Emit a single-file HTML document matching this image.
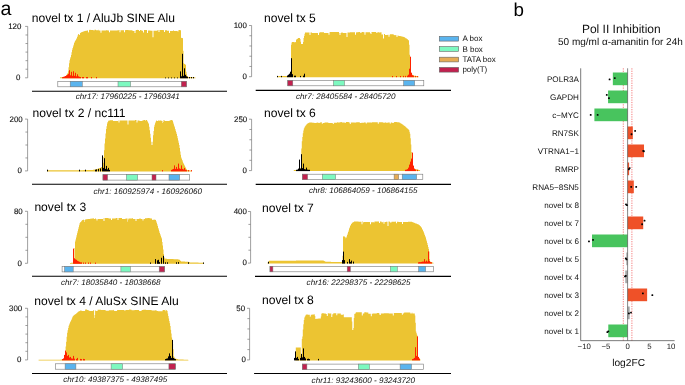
<!DOCTYPE html>
<html><head><meta charset="utf-8"><title>Figure</title>
<style>html,body{margin:0;padding:0;background:#fff;}svg{display:block;}</style>
</head><body>
<svg width="685" height="385" viewBox="0 0 685 385" text-rendering="geometricPrecision">
<rect width="685" height="385" fill="#fff"/>
<path d="M60.0 78.3 L60.0 77.3 L60.5 77.3 L60.5 77.3 L61.0 77.3 L61.0 77.2 L61.5 77.2 L61.5 77.2 L62.0 77.2 L62.0 77.2 L62.5 77.2 L62.5 77.1 L63.0 77.1 L63.0 77.1 L63.5 77.1 L63.5 77.0 L64.0 77.0 L64.0 77.0 L64.5 77.0 L64.5 76.7 L65.0 76.7 L65.0 76.4 L65.5 76.4 L65.5 76.1 L66.0 76.1 L66.0 75.8 L66.5 75.8 L66.5 74.8 L67.0 74.8 L67.0 73.9 L67.5 73.9 L67.5 72.9 L68.0 72.9 L68.0 71.3 L68.5 71.3 L68.5 67.3 L69.0 67.3 L69.0 63.2 L69.5 63.2 L69.5 60.2 L70.0 60.2 L70.0 58.6 L70.5 58.6 L70.5 57.0 L71.0 57.0 L71.0 54.9 L71.5 54.9 L71.5 52.3 L72.0 52.3 L72.0 49.8 L72.5 49.8 L72.5 48.0 L73.0 48.0 L73.0 46.4 L73.5 46.4 L73.5 44.7 L74.0 44.7 L74.0 43.1 L74.5 43.1 L74.5 41.8 L75.0 41.8 L75.0 40.9 L75.5 40.9 L75.5 40.1 L76.0 40.1 L76.0 39.3 L76.5 39.3 L76.5 38.3 L77.0 38.3 L77.0 36.9 L77.5 36.9 L77.5 35.4 L78.0 35.4 L78.0 34.2 L78.5 34.2 L78.5 33.9 L79.0 33.9 L79.0 35.1 L79.5 35.1 L79.5 34.8 L80.0 34.8 L80.0 33.0 L80.5 33.0 L80.5 32.7 L81.0 32.7 L81.0 32.4 L81.5 32.4 L81.5 32.1 L82.0 32.1 L82.0 31.9 L82.5 31.9 L82.5 31.7 L83.0 31.7 L83.0 31.6 L83.5 31.6 L83.5 31.4 L84.0 31.4 L84.0 31.3 L84.5 31.3 L84.5 31.1 L85.0 31.1 L85.0 30.9 L85.5 30.9 L85.5 30.8 L86.0 30.8 L86.0 30.7 L86.5 30.7 L86.5 30.8 L87.0 30.8 L87.0 30.6 L87.5 30.6 L87.5 30.6 L88.0 30.6 L88.0 32.5 L88.5 32.5 L88.5 32.3 L89.0 32.3 L89.0 29.9 L89.5 29.9 L89.5 29.8 L90.0 29.8 L90.0 29.8 L90.5 29.8 L90.5 29.9 L91.0 29.9 L91.0 29.9 L91.5 29.9 L91.5 29.9 L92.0 29.9 L92.0 29.9 L92.5 29.9 L92.5 29.9 L93.0 29.9 L93.0 29.9 L93.5 29.9 L93.5 30.6 L94.0 30.6 L94.0 30.6 L94.5 30.6 L94.5 29.8 L95.0 29.8 L95.0 29.8 L95.5 29.8 L95.5 29.8 L96.0 29.8 L96.0 30.3 L96.5 30.3 L96.5 30.3 L97.0 30.3 L97.0 30.3 L97.5 30.3 L97.5 30.3 L98.0 30.3 L98.0 29.7 L98.5 29.7 L98.5 30.5 L99.0 30.5 L99.0 30.5 L99.5 30.5 L99.5 30.5 L100.0 30.5 L100.0 30.5 L100.5 30.5 L100.5 32.7 L101.0 32.7 L101.0 32.7 L101.5 32.7 L101.5 30.5 L102.0 30.5 L102.0 30.5 L102.5 30.5 L102.5 30.5 L103.0 30.5 L103.0 30.5 L103.5 30.5 L103.5 30.5 L104.0 30.5 L104.0 30.5 L104.5 30.5 L104.5 30.5 L105.0 30.5 L105.0 30.5 L105.5 30.5 L105.5 30.5 L106.0 30.5 L106.0 30.2 L106.5 30.2 L106.5 30.2 L107.0 30.2 L107.0 30.3 L107.5 30.3 L107.5 30.5 L108.0 30.5 L108.0 30.5 L108.5 30.5 L108.5 30.5 L109.0 30.5 L109.0 32.3 L109.5 32.3 L109.5 32.3 L110.0 32.3 L110.0 30.5 L110.5 30.5 L110.5 30.5 L111.0 30.5 L111.0 30.5 L111.5 30.5 L111.5 30.5 L112.0 30.5 L112.0 30.5 L112.5 30.5 L112.5 30.5 L113.0 30.5 L113.0 30.5 L113.5 30.5 L113.5 30.5 L114.0 30.5 L114.0 30.5 L114.5 30.5 L114.5 30.5 L115.0 30.5 L115.0 30.6 L115.5 30.6 L115.5 30.6 L116.0 30.6 L116.0 30.6 L116.5 30.6 L116.5 30.6 L117.0 30.6 L117.0 30.6 L117.5 30.6 L117.5 30.3 L118.0 30.3 L118.0 29.9 L118.5 29.9 L118.5 30.6 L119.0 30.6 L119.0 30.0 L119.5 30.0 L119.5 32.2 L120.0 32.2 L120.0 32.2 L120.5 32.2 L120.5 30.3 L121.0 30.3 L121.0 30.3 L121.5 30.3 L121.5 30.3 L122.0 30.3 L122.0 30.3 L122.5 30.3 L122.5 30.3 L123.0 30.3 L123.0 30.3 L123.5 30.3 L123.5 30.3 L124.0 30.3 L124.0 32.3 L124.5 32.3 L124.5 32.3 L125.0 32.3 L125.0 30.3 L125.5 30.3 L125.5 30.0 L126.0 30.0 L126.0 30.0 L126.5 30.0 L126.5 30.0 L127.0 30.0 L127.0 30.0 L127.5 30.0 L127.5 30.0 L128.0 30.0 L128.0 30.0 L128.5 30.0 L128.5 30.3 L129.0 30.3 L129.0 30.3 L129.5 30.3 L129.5 30.3 L130.0 30.3 L130.0 30.3 L130.5 30.3 L130.5 30.3 L131.0 30.3 L131.0 30.3 L131.5 30.3 L131.5 30.3 L132.0 30.3 L132.0 30.3 L132.5 30.3 L132.5 30.9 L133.0 30.9 L133.0 30.9 L133.5 30.9 L133.5 30.9 L134.0 30.9 L134.0 30.9 L134.5 30.9 L134.5 33.1 L135.0 33.1 L135.0 33.1 L135.5 33.1 L135.5 30.6 L136.0 30.6 L136.0 29.9 L136.5 29.9 L136.5 30.0 L137.0 30.0 L137.0 30.0 L137.5 30.0 L137.5 29.8 L138.0 29.8 L138.0 29.9 L138.5 29.9 L138.5 29.9 L139.0 29.9 L139.0 30.9 L139.5 30.9 L139.5 30.9 L140.0 30.9 L140.0 30.1 L140.5 30.1 L140.5 30.1 L141.0 30.1 L141.0 30.1 L141.5 30.1 L141.5 30.8 L142.0 30.8 L142.0 30.8 L142.5 30.8 L142.5 30.8 L143.0 30.8 L143.0 32.9 L143.5 32.9 L143.5 32.0 L144.0 32.0 L144.0 30.0 L144.5 30.0 L144.5 30.0 L145.0 30.0 L145.0 30.0 L145.5 30.0 L145.5 29.9 L146.0 29.9 L146.0 29.9 L146.5 29.9 L146.5 29.9 L147.0 29.9 L147.0 33.0 L147.5 33.0 L147.5 33.0 L148.0 33.0 L148.0 30.5 L148.5 30.5 L148.5 30.5 L149.0 30.5 L149.0 30.5 L149.5 30.5 L149.5 30.5 L150.0 30.5 L150.0 30.5 L150.5 30.5 L150.5 30.8 L151.0 30.8 L151.0 30.8 L151.5 30.8 L151.5 30.8 L152.0 30.8 L152.0 30.8 L152.5 30.8 L152.5 37.3 L153.0 37.3 L153.0 37.3 L153.5 37.3 L153.5 30.8 L154.0 30.8 L154.0 30.8 L154.5 30.8 L154.5 30.8 L155.0 30.8 L155.0 30.8 L155.5 30.8 L155.5 30.8 L156.0 30.8 L156.0 30.8 L156.5 30.8 L156.5 30.8 L157.0 30.8 L157.0 30.8 L157.5 30.8 L157.5 29.9 L158.0 29.9 L158.0 29.9 L158.5 29.9 L158.5 32.1 L159.0 32.1 L159.0 32.1 L159.5 32.1 L159.5 29.9 L160.0 29.9 L160.0 29.9 L160.5 29.9 L160.5 29.9 L161.0 29.9 L161.0 29.9 L161.5 29.9 L161.5 29.9 L162.0 29.9 L162.0 30.0 L162.5 30.0 L162.5 30.0 L163.0 30.0 L163.0 30.0 L163.5 30.0 L163.5 30.2 L164.0 30.2 L164.0 32.0 L164.5 32.0 L164.5 32.0 L165.0 32.0 L165.0 30.2 L165.5 30.2 L165.5 30.2 L166.0 30.2 L166.0 30.2 L166.5 30.2 L166.5 30.2 L167.0 30.2 L167.0 30.7 L167.5 30.7 L167.5 30.7 L168.0 30.7 L168.0 30.7 L168.5 30.7 L168.5 30.7 L169.0 30.7 L169.0 32.9 L169.5 32.9 L169.5 33.1 L170.0 33.1 L170.0 30.9 L170.5 30.9 L170.5 30.9 L171.0 30.9 L171.0 30.9 L171.5 30.9 L171.5 30.9 L172.0 30.9 L172.0 30.9 L172.5 30.9 L172.5 30.9 L173.0 30.9 L173.0 30.9 L173.5 30.9 L173.5 30.1 L174.0 30.1 L174.0 31.1 L174.5 31.1 L174.5 31.1 L175.0 31.1 L175.0 31.0 L175.5 31.0 L175.5 31.0 L176.0 31.0 L176.0 31.0 L176.5 31.0 L176.5 31.0 L177.0 31.0 L177.0 31.0 L177.5 31.0 L177.5 31.5 L178.0 31.5 L178.0 31.5 L178.5 31.5 L178.5 30.0 L179.0 30.0 L179.0 30.0 L179.5 30.0 L179.5 30.0 L180.0 30.0 L180.0 30.0 L180.5 30.0 L180.5 30.6 L181.0 30.6 L181.0 37.8 L181.5 37.8 L181.5 37.9 L182.0 37.9 L182.0 38.1 L182.5 38.1 L182.5 38.2 L183.0 38.2 L183.0 50.7 L183.5 50.7 L183.5 63.3 L184.0 63.3 L184.0 63.7 L184.5 63.7 L184.5 64.0 L185.0 64.0 L185.0 64.4 L185.5 64.4 L185.5 64.8 L186.0 64.8 L186.0 71.8 L186.5 71.8 L186.5 74.3 L187.0 74.3 L187.0 76.0 L187.5 76.0 L187.5 76.5 L188.0 76.5 L188.0 77.0 L188.5 77.0 L188.5 77.0 L189.0 77.0 L189.0 77.1 L189.5 77.1 L189.5 77.1 L190.0 77.1 L190.0 77.1 L190.5 77.1 L190.5 77.1 L191.0 77.1 L191.0 77.2 L191.5 77.2 L191.5 77.2 L192.0 77.2 L192.0 77.2 L192.5 77.2 L192.5 77.3 L193.0 77.3 L193.0 77.3 L193.5 77.3 L193.5 77.3 L194.0 77.3 L194.0 77.3 L194.5 77.3 L194.5 77.4 L195.0 77.4 L195.0 77.4 L195.5 77.4 L195.5 78.3 Z" fill="#ECC432"/>
<path d="M62.5 78.3 V77.2 M63.5 78.3 V76.8 M64.5 78.3 V76.5 M65.5 78.3 V76.0 M66.5 78.3 V75.4 M67.5 78.3 V74.8 M68.5 78.3 V73.8 M69.5 78.3 V70.2 M70.5 78.3 V75.3 M71.5 78.3 V71.8 M72.5 78.3 V75.8 M73.5 78.3 V71.3 M74.5 78.3 V75.8 M75.5 78.3 V72.8 M76.5 78.3 V76.3 M77.5 78.3 V74.3 M78.5 78.3 V76.3 M79.5 78.3 V76.8 M80.5 78.3 V77.0 M82.5 78.3 V77.0 M83.5 78.3 V77.0 M86.5 78.3 V77.0 M87.5 78.3 V77.0 M91.5 78.3 V77.0 M96.5 78.3 V77.0 " stroke="#FF2200" stroke-width="1" fill="none"/>
<path d="M165.5 78.3 V77.5 M168.5 78.3 V77.5 M171.5 78.3 V77.5 M174.5 78.3 V77.5 M177.5 78.3 V77.5 M180.5 78.3 V71.4 M181.5 78.3 V76.3 M182.5 78.3 V53.8 M183.5 78.3 V75.8 M184.5 78.3 V68.3 M185.5 78.3 V74.8 M186.5 78.3 V76.3 M187.5 78.3 V76.8 M189.5 78.3 V77.0 M191.5 78.3 V77.0 M193.5 78.3 V77.0 " stroke="#000000" stroke-width="1" fill="none"/>
<path d="M25.1 26.4 H27.7 V77.8 H25.1 M27.7 34.97 H25.5 M27.7 43.53 H25.5 M27.7 52.10 H25.5 M27.7 60.67 H25.5 M27.7 69.23 H25.5 " stroke="#777" stroke-width="0.7" fill="none"/>
<text x="21.3" y="28.9" font-size="7.9" text-anchor="end" font-family="Liberation Sans, Arial, sans-serif" fill="#111" stroke="#111" stroke-width="0.12">120</text>
<text x="20.3" y="80.0" font-size="7.9" text-anchor="end" font-family="Liberation Sans, Arial, sans-serif" fill="#111" stroke="#111" stroke-width="0.12">0</text>
<rect x="57.8" y="81.3" width="128.6" height="5.5" fill="#fff" stroke="#777" stroke-width="0.6"/>
<rect x="70.2" y="81.3" width="12.1" height="5.5" fill="#5AB4EE" stroke="#777" stroke-width="0.5"/>
<rect x="118.0" y="81.3" width="12.6" height="5.5" fill="#7DF9C0" stroke="#777" stroke-width="0.5"/>
<rect x="181.3" y="81.3" width="5.1" height="5.5" fill="#C2214F" stroke="#777" stroke-width="0.5"/>
<path d="M32.0 91.3 H227.0" stroke="#000" stroke-width="1.1"/>
<text x="31.7" y="21.6" font-size="12.1" font-family="Liberation Sans, Arial, sans-serif" fill="#000">novel tx 1 / AluJb SINE Alu</text>
<text x="127.8" y="99.4" font-size="8.1" font-style="italic" text-anchor="middle" font-family="Liberation Sans, Arial, sans-serif" fill="#111">chr17: 17960225 - 17960341</text>
<path d="M47.0 171.4 L47.0 170.3 L47.5 170.3 L47.5 170.3 L48.0 170.3 L48.0 170.3 L48.5 170.3 L48.5 170.3 L49.0 170.3 L49.0 170.3 L49.5 170.3 L49.5 170.3 L50.0 170.3 L50.0 170.3 L50.5 170.3 L50.5 170.3 L51.0 170.3 L51.0 170.3 L51.5 170.3 L51.5 170.3 L52.0 170.3 L52.0 170.3 L52.5 170.3 L52.5 170.3 L53.0 170.3 L53.0 170.3 L53.5 170.3 L53.5 170.3 L54.0 170.3 L54.0 170.3 L54.5 170.3 L54.5 170.3 L55.0 170.3 L55.0 170.3 L55.5 170.3 L55.5 170.3 L56.0 170.3 L56.0 170.3 L56.5 170.3 L56.5 170.3 L57.0 170.3 L57.0 170.3 L57.5 170.3 L57.5 170.3 L58.0 170.3 L58.0 170.3 L58.5 170.3 L58.5 170.3 L59.0 170.3 L59.0 170.3 L59.5 170.3 L59.5 170.3 L60.0 170.3 L60.0 170.3 L60.5 170.3 L60.5 170.3 L61.0 170.3 L61.0 170.3 L61.5 170.3 L61.5 170.3 L62.0 170.3 L62.0 170.3 L62.5 170.3 L62.5 170.3 L63.0 170.3 L63.0 170.3 L63.5 170.3 L63.5 170.2 L64.0 170.2 L64.0 170.2 L64.5 170.2 L64.5 170.2 L65.0 170.2 L65.0 170.2 L65.5 170.2 L65.5 170.2 L66.0 170.2 L66.0 170.2 L66.5 170.2 L66.5 170.2 L67.0 170.2 L67.0 170.2 L67.5 170.2 L67.5 170.2 L68.0 170.2 L68.0 170.2 L68.5 170.2 L68.5 170.2 L69.0 170.2 L69.0 170.2 L69.5 170.2 L69.5 170.2 L70.0 170.2 L70.0 170.2 L70.5 170.2 L70.5 170.2 L71.0 170.2 L71.0 170.2 L71.5 170.2 L71.5 170.2 L72.0 170.2 L72.0 170.2 L72.5 170.2 L72.5 170.2 L73.0 170.2 L73.0 170.2 L73.5 170.2 L73.5 170.2 L74.0 170.2 L74.0 170.2 L74.5 170.2 L74.5 170.2 L75.0 170.2 L75.0 170.2 L75.5 170.2 L75.5 170.2 L76.0 170.2 L76.0 170.2 L76.5 170.2 L76.5 170.2 L77.0 170.2 L77.0 170.2 L77.5 170.2 L77.5 170.2 L78.0 170.2 L78.0 170.2 L78.5 170.2 L78.5 170.2 L79.0 170.2 L79.0 170.2 L79.5 170.2 L79.5 170.2 L80.0 170.2 L80.0 170.2 L80.5 170.2 L80.5 170.2 L81.0 170.2 L81.0 170.2 L81.5 170.2 L81.5 170.2 L82.0 170.2 L82.0 170.2 L82.5 170.2 L82.5 170.2 L83.0 170.2 L83.0 170.2 L83.5 170.2 L83.5 170.1 L84.0 170.1 L84.0 170.1 L84.5 170.1 L84.5 170.1 L85.0 170.1 L85.0 170.1 L85.5 170.1 L85.5 170.1 L86.0 170.1 L86.0 170.1 L86.5 170.1 L86.5 170.1 L87.0 170.1 L87.0 170.1 L87.5 170.1 L87.5 170.1 L88.0 170.1 L88.0 170.1 L88.5 170.1 L88.5 170.1 L89.0 170.1 L89.0 170.1 L89.5 170.1 L89.5 170.0 L90.0 170.0 L90.0 170.0 L90.5 170.0 L90.5 170.0 L91.0 170.0 L91.0 170.0 L91.5 170.0 L91.5 170.0 L92.0 170.0 L92.0 170.0 L92.5 170.0 L92.5 169.9 L93.0 169.9 L93.0 169.8 L93.5 169.8 L93.5 169.7 L94.0 169.7 L94.0 169.7 L94.5 169.7 L94.5 169.6 L95.0 169.6 L95.0 169.5 L95.5 169.5 L95.5 169.4 L96.0 169.4 L96.0 169.3 L96.5 169.3 L96.5 169.1 L97.0 169.1 L97.0 169.0 L97.5 169.0 L97.5 168.8 L98.0 168.8 L98.0 168.6 L98.5 168.6 L98.5 168.4 L99.0 168.4 L99.0 168.2 L99.5 168.2 L99.5 168.1 L100.0 168.1 L100.0 167.9 L100.5 167.9 L100.5 167.6 L101.0 167.6 L101.0 167.3 L101.5 167.3 L101.5 167.0 L102.0 167.0 L102.0 166.7 L102.5 166.7 L102.5 166.5 L103.0 166.5 L103.0 162.7 L103.5 162.7 L103.5 156.9 L104.0 156.9 L104.0 150.3 L104.5 150.3 L104.5 143.6 L105.0 143.6 L105.0 138.4 L105.5 138.4 L105.5 133.4 L106.0 133.4 L106.0 128.9 L106.5 128.9 L106.5 126.2 L107.0 126.2 L107.0 123.4 L107.5 123.4 L107.5 121.9 L108.0 121.9 L108.0 121.3 L108.5 121.3 L108.5 120.6 L109.0 120.6 L109.0 120.5 L109.5 120.5 L109.5 120.5 L110.0 120.5 L110.0 120.2 L110.5 120.2 L110.5 120.2 L111.0 120.2 L111.0 120.2 L111.5 120.2 L111.5 120.2 L112.0 120.2 L112.0 120.2 L112.5 120.2 L112.5 120.2 L113.0 120.2 L113.0 121.0 L113.5 121.0 L113.5 121.0 L114.0 121.0 L114.0 121.0 L114.5 121.0 L114.5 121.0 L115.0 121.0 L115.0 121.0 L115.5 121.0 L115.5 121.0 L116.0 121.0 L116.0 121.0 L116.5 121.0 L116.5 121.0 L117.0 121.0 L117.0 120.9 L117.5 120.9 L117.5 120.9 L118.0 120.9 L118.0 120.4 L118.5 120.4 L118.5 122.4 L119.0 122.4 L119.0 122.4 L119.5 122.4 L119.5 120.4 L120.0 120.4 L120.0 120.4 L120.5 120.4 L120.5 120.4 L121.0 120.4 L121.0 120.4 L121.5 120.4 L121.5 120.4 L122.0 120.4 L122.0 120.4 L122.5 120.4 L122.5 120.4 L123.0 120.4 L123.0 120.5 L123.5 120.5 L123.5 120.5 L124.0 120.5 L124.0 120.5 L124.5 120.5 L124.5 120.5 L125.0 120.5 L125.0 120.5 L125.5 120.5 L125.5 120.5 L126.0 120.5 L126.0 120.5 L126.5 120.5 L126.5 120.5 L127.0 120.5 L127.0 120.5 L127.5 120.5 L127.5 124.5 L128.0 124.5 L128.0 124.5 L128.5 124.5 L128.5 120.5 L129.0 120.5 L129.0 120.5 L129.5 120.5 L129.5 120.5 L130.0 120.5 L130.0 120.5 L130.5 120.5 L130.5 120.5 L131.0 120.5 L131.0 120.5 L131.5 120.5 L131.5 120.5 L132.0 120.5 L132.0 120.4 L132.5 120.4 L132.5 120.4 L133.0 120.4 L133.0 120.4 L133.5 120.4 L133.5 120.4 L134.0 120.4 L134.0 120.4 L134.5 120.4 L134.5 120.4 L135.0 120.4 L135.0 119.9 L135.5 119.9 L135.5 119.9 L136.0 119.9 L136.0 120.0 L136.5 120.0 L136.5 122.6 L137.0 122.6 L137.0 122.6 L137.5 122.6 L137.5 120.6 L138.0 120.6 L138.0 120.6 L138.5 120.6 L138.5 120.6 L139.0 120.6 L139.0 120.8 L139.5 120.8 L139.5 120.8 L140.0 120.8 L140.0 120.9 L140.5 120.9 L140.5 120.9 L141.0 120.9 L141.0 120.9 L141.5 120.9 L141.5 120.9 L142.0 120.9 L142.0 120.9 L142.5 120.9 L142.5 120.2 L143.0 120.2 L143.0 120.2 L143.5 120.2 L143.5 120.2 L144.0 120.2 L144.0 120.1 L144.5 120.1 L144.5 120.1 L145.0 120.1 L145.0 120.4 L145.5 120.4 L145.5 120.4 L146.0 120.4 L146.0 120.1 L146.5 120.1 L146.5 120.1 L147.0 120.1 L147.0 120.7 L147.5 120.7 L147.5 121.7 L148.0 121.7 L148.0 122.8 L148.5 122.8 L148.5 123.8 L149.0 123.8 L149.0 126.8 L149.5 126.8 L149.5 130.2 L150.0 130.2 L150.0 133.8 L150.5 133.8 L150.5 137.8 L151.0 137.8 L151.0 141.8 L151.5 141.8 L151.5 145.0 L152.0 145.0 L152.0 145.0 L152.5 145.0 L152.5 141.8 L153.0 141.8 L153.0 135.2 L153.5 135.2 L153.5 131.0 L154.0 131.0 L154.0 126.8 L154.5 126.8 L154.5 124.8 L155.0 124.8 L155.0 123.2 L155.5 123.2 L155.5 121.7 L156.0 121.7 L156.0 120.3 L156.5 120.3 L156.5 121.1 L157.0 121.1 L157.0 121.1 L157.5 121.1 L157.5 121.1 L158.0 121.1 L158.0 120.2 L158.5 120.2 L158.5 120.8 L159.0 120.8 L159.0 120.8 L159.5 120.8 L159.5 120.4 L160.0 120.4 L160.0 120.4 L160.5 120.4 L160.5 120.4 L161.0 120.4 L161.0 120.4 L161.5 120.4 L161.5 121.0 L162.0 121.0 L162.0 121.0 L162.5 121.0 L162.5 123.0 L163.0 123.0 L163.0 122.0 L163.5 122.0 L163.5 120.0 L164.0 120.0 L164.0 120.0 L164.5 120.0 L164.5 121.0 L165.0 121.0 L165.0 121.0 L165.5 121.0 L165.5 121.0 L166.0 121.0 L166.0 120.9 L166.5 120.9 L166.5 120.9 L167.0 120.9 L167.0 120.9 L167.5 120.9 L167.5 120.9 L168.0 120.9 L168.0 120.9 L168.5 120.9 L168.5 120.9 L169.0 120.9 L169.0 120.9 L169.5 120.9 L169.5 120.5 L170.0 120.5 L170.0 120.5 L170.5 120.5 L170.5 120.1 L171.0 120.1 L171.0 120.1 L171.5 120.1 L171.5 120.1 L172.0 120.1 L172.0 120.1 L172.5 120.1 L172.5 121.1 L173.0 121.1 L173.0 122.6 L173.5 122.6 L173.5 124.2 L174.0 124.2 L174.0 125.7 L174.5 125.7 L174.5 127.3 L175.0 127.3 L175.0 129.0 L175.5 129.0 L175.5 130.7 L176.0 130.7 L176.0 132.3 L176.5 132.3 L176.5 134.0 L177.0 134.0 L177.0 135.9 L177.5 135.9 L177.5 138.2 L178.0 138.2 L178.0 140.4 L178.5 140.4 L178.5 142.7 L179.0 142.7 L179.0 145.0 L179.5 145.0 L179.5 148.0 L180.0 148.0 L180.0 151.4 L180.5 151.4 L180.5 154.8 L181.0 154.8 L181.0 157.4 L181.5 157.4 L181.5 158.7 L182.0 158.7 L182.0 160.1 L182.5 160.1 L182.5 161.4 L183.0 161.4 L183.0 162.7 L183.5 162.7 L183.5 163.8 L184.0 163.8 L184.0 164.8 L184.5 164.8 L184.5 165.8 L185.0 165.8 L185.0 166.8 L185.5 166.8 L185.5 167.8 L186.0 167.8 L186.0 168.7 L186.5 168.7 L186.5 169.4 L187.0 169.4 L187.0 170.1 L187.5 170.1 L187.5 170.2 L188.0 170.2 L188.0 170.2 L188.5 170.2 L188.5 170.2 L189.0 170.2 L189.0 170.3 L189.5 170.3 L189.5 170.3 L190.0 170.3 L190.0 170.4 L190.5 170.4 L190.5 170.4 L191.0 170.4 L191.0 170.5 L191.5 170.5 L191.5 171.4 Z" fill="#ECC432"/>
<path d="M47.5 171.4 V169.7 M79.5 171.4 V169.7 M85.5 171.4 V169.7 M95.5 171.4 V169.7 M96.5 171.4 V169.4 M98.5 171.4 V168.9 M100.5 171.4 V168.4 M102.5 171.4 V155.4 M103.5 171.4 V167.9 M104.5 171.4 V158.2 M105.5 171.4 V168.9 M106.5 171.4 V165.9 M107.5 171.4 V169.4 M108.5 171.4 V167.9 M109.5 171.4 V169.9 " stroke="#000000" stroke-width="1" fill="none"/>
<path d="M162.5 171.4 V170.1 M171.5 171.4 V169.9 M172.5 171.4 V169.4 M173.5 171.4 V168.9 M174.5 171.4 V165.4 M175.5 171.4 V168.9 M176.5 171.4 V166.9 M177.5 171.4 V168.9 M178.5 171.4 V163.6 M179.5 171.4 V168.4 M180.5 171.4 V168.9 M181.5 171.4 V165.4 M182.5 171.4 V168.9 M183.5 171.4 V169.4 M184.5 171.4 V167.9 M185.5 171.4 V169.7 M186.5 171.4 V170.1 M188.5 171.4 V170.1 M191.5 171.4 V170.1 " stroke="#FF2200" stroke-width="1" fill="none"/>
<path d="M25.0 119.1 H27.6 V170.9 H25.0 M27.6 132.05 H25.4 M27.6 145.00 H25.4 M27.6 157.95 H25.4 " stroke="#777" stroke-width="0.7" fill="none"/>
<text x="22.7" y="121.6" font-size="7.9" text-anchor="end" font-family="Liberation Sans, Arial, sans-serif" fill="#111" stroke="#111" stroke-width="0.12">200</text>
<text x="21.8" y="173.1" font-size="7.9" text-anchor="end" font-family="Liberation Sans, Arial, sans-serif" fill="#111" stroke="#111" stroke-width="0.12">0</text>
<rect x="103.0" y="174.7" width="86.7" height="5.4" fill="#fff" stroke="#777" stroke-width="0.6"/>
<rect x="103.0" y="174.7" width="4.6" height="5.4" fill="#C2214F" stroke="#777" stroke-width="0.5"/>
<rect x="126.4" y="174.7" width="11.3" height="5.4" fill="#7DF9C0" stroke="#777" stroke-width="0.5"/>
<rect x="152.0" y="174.7" width="4.0" height="5.4" fill="#C2214F" stroke="#777" stroke-width="0.5"/>
<rect x="169.0" y="174.7" width="10.7" height="5.4" fill="#5AB4EE" stroke="#777" stroke-width="0.5"/>
<path d="M32.0 184.3 H227.0" stroke="#000" stroke-width="1.1"/>
<text x="32.6" y="116.8" font-size="12.1" font-family="Liberation Sans, Arial, sans-serif" fill="#000">novel tx 2 / nc111</text>
<text x="147.8" y="194.4" font-size="8.1" font-style="italic" text-anchor="middle" font-family="Liberation Sans, Arial, sans-serif" fill="#111">chr1: 160925974 - 160926060</text>
<path d="M70.0 263.8 L70.0 262.9 L70.5 262.9 L70.5 262.9 L71.0 262.9 L71.0 262.8 L71.5 262.8 L71.5 262.8 L72.0 262.8 L72.0 262.8 L72.5 262.8 L72.5 262.8 L73.0 262.8 L73.0 262.7 L73.5 262.7 L73.5 262.7 L74.0 262.7 L74.0 262.4 L74.5 262.4 L74.5 248.0 L75.0 248.0 L75.0 241.4 L75.5 241.4 L75.5 239.4 L76.0 239.4 L76.0 237.4 L76.5 237.4 L76.5 235.3 L77.0 235.3 L77.0 233.3 L77.5 233.3 L77.5 231.3 L78.0 231.3 L78.0 229.3 L78.5 229.3 L78.5 227.3 L79.0 227.3 L79.0 225.2 L79.5 225.2 L79.5 223.2 L80.0 223.2 L80.0 222.6 L80.5 222.6 L80.5 222.0 L81.0 222.0 L81.0 221.4 L81.5 221.4 L81.5 220.8 L82.0 220.8 L82.0 220.3 L82.5 220.3 L82.5 219.9 L83.0 219.9 L83.0 219.8 L83.5 219.8 L83.5 219.7 L84.0 219.7 L84.0 222.0 L84.5 222.0 L84.5 220.1 L85.0 220.1 L85.0 219.4 L85.5 219.4 L85.5 219.4 L86.0 219.4 L86.0 219.3 L86.5 219.3 L86.5 219.2 L87.0 219.2 L87.0 219.2 L87.5 219.2 L87.5 219.1 L88.0 219.1 L88.0 219.1 L88.5 219.1 L88.5 219.0 L89.0 219.0 L89.0 218.9 L89.5 218.9 L89.5 218.9 L90.0 218.9 L90.0 218.8 L90.5 218.8 L90.5 218.7 L91.0 218.7 L91.0 218.7 L91.5 218.7 L91.5 218.6 L92.0 218.6 L92.0 218.6 L92.5 218.6 L92.5 218.6 L93.0 218.6 L93.0 218.4 L93.5 218.4 L93.5 218.3 L94.0 218.3 L94.0 218.9 L94.5 218.9 L94.5 218.9 L95.0 218.9 L95.0 218.6 L95.5 218.6 L95.5 218.6 L96.0 218.6 L96.0 219.0 L96.5 219.0 L96.5 220.5 L97.0 220.5 L97.0 220.5 L97.5 220.5 L97.5 219.0 L98.0 219.0 L98.0 219.0 L98.5 219.0 L98.5 219.0 L99.0 219.0 L99.0 219.0 L99.5 219.0 L99.5 219.0 L100.0 219.0 L100.0 219.0 L100.5 219.0 L100.5 219.0 L101.0 219.0 L101.0 219.0 L101.5 219.0 L101.5 219.0 L102.0 219.0 L102.0 219.0 L102.5 219.0 L102.5 219.0 L103.0 219.0 L103.0 218.2 L103.5 218.2 L103.5 220.9 L104.0 220.9 L104.0 220.9 L104.5 220.9 L104.5 218.1 L105.0 218.1 L105.0 218.1 L105.5 218.1 L105.5 218.1 L106.0 218.1 L106.0 218.1 L106.5 218.1 L106.5 218.1 L107.0 218.1 L107.0 218.1 L107.5 218.1 L107.5 218.1 L108.0 218.1 L108.0 218.1 L108.5 218.1 L108.5 218.5 L109.0 218.5 L109.0 218.5 L109.5 218.5 L109.5 218.5 L110.0 218.5 L110.0 218.5 L110.5 218.5 L110.5 218.5 L111.0 218.5 L111.0 220.0 L111.5 220.0 L111.5 220.0 L112.0 220.0 L112.0 218.5 L112.5 218.5 L112.5 218.5 L113.0 218.5 L113.0 218.5 L113.5 218.5 L113.5 218.5 L114.0 218.5 L114.0 218.5 L114.5 218.5 L114.5 218.6 L115.0 218.6 L115.0 218.3 L115.5 218.3 L115.5 218.5 L116.0 218.5 L116.0 218.0 L116.5 218.0 L116.5 218.0 L117.0 218.0 L117.0 218.0 L117.5 218.0 L117.5 220.0 L118.0 220.0 L118.0 220.0 L118.5 220.0 L118.5 218.0 L119.0 218.0 L119.0 218.0 L119.5 218.0 L119.5 218.0 L120.0 218.0 L120.0 218.0 L120.5 218.0 L120.5 218.0 L121.0 218.0 L121.0 218.0 L121.5 218.0 L121.5 218.0 L122.0 218.0 L122.0 218.9 L122.5 218.9 L122.5 218.9 L123.0 218.9 L123.0 219.0 L123.5 219.0 L123.5 219.0 L124.0 219.0 L124.0 219.0 L124.5 219.0 L124.5 219.0 L125.0 219.0 L125.0 219.0 L125.5 219.0 L125.5 218.6 L126.0 218.6 L126.0 218.6 L126.5 218.6 L126.5 218.6 L127.0 218.6 L127.0 218.6 L127.5 218.6 L127.5 221.8 L128.0 221.8 L128.0 219.5 L128.5 219.5 L128.5 218.6 L129.0 218.6 L129.0 218.6 L129.5 218.6 L129.5 218.6 L130.0 218.6 L130.0 218.6 L130.5 218.6 L130.5 218.6 L131.0 218.6 L131.0 218.6 L131.5 218.6 L131.5 218.6 L132.0 218.6 L132.0 218.2 L132.5 218.2 L132.5 218.2 L133.0 218.2 L133.0 219.0 L133.5 219.0 L133.5 219.0 L134.0 219.0 L134.0 219.0 L134.5 219.0 L134.5 219.0 L135.0 219.0 L135.0 219.0 L135.5 219.0 L135.5 221.0 L136.0 221.0 L136.0 221.0 L136.5 221.0 L136.5 219.0 L137.0 219.0 L137.0 219.0 L137.5 219.0 L137.5 219.0 L138.0 219.0 L138.0 219.0 L138.5 219.0 L138.5 218.9 L139.0 218.9 L139.0 218.9 L139.5 218.9 L139.5 218.3 L140.0 218.3 L140.0 218.3 L140.5 218.3 L140.5 218.9 L141.0 218.9 L141.0 218.9 L141.5 218.9 L141.5 218.9 L142.0 218.9 L142.0 218.9 L142.5 218.9 L142.5 220.4 L143.0 220.4 L143.0 220.4 L143.5 220.4 L143.5 218.9 L144.0 218.9 L144.0 218.9 L144.5 218.9 L144.5 218.9 L145.0 218.9 L145.0 218.2 L145.5 218.2 L145.5 218.2 L146.0 218.2 L146.0 218.2 L146.5 218.2 L146.5 218.2 L147.0 218.2 L147.0 218.2 L147.5 218.2 L147.5 218.1 L148.0 218.1 L148.0 218.1 L148.5 218.1 L148.5 218.1 L149.0 218.1 L149.0 218.1 L149.5 218.1 L149.5 218.2 L150.0 218.2 L150.0 218.3 L150.5 218.3 L150.5 218.4 L151.0 218.4 L151.0 218.5 L151.5 218.5 L151.5 218.6 L152.0 218.6 L152.0 219.7 L152.5 219.7 L152.5 219.9 L153.0 219.9 L153.0 220.0 L153.5 220.0 L153.5 219.5 L154.0 219.5 L154.0 219.6 L154.5 219.6 L154.5 219.7 L155.0 219.7 L155.0 219.8 L155.5 219.8 L155.5 220.0 L156.0 220.0 L156.0 221.3 L156.5 221.3 L156.5 222.7 L157.0 222.7 L157.0 224.3 L157.5 224.3 L157.5 226.1 L158.0 226.1 L158.0 227.9 L158.5 227.9 L158.5 229.6 L159.0 229.6 L159.0 231.2 L159.5 231.2 L159.5 232.9 L160.0 232.9 L160.0 234.3 L160.5 234.3 L160.5 235.8 L161.0 235.8 L161.0 237.2 L161.5 237.2 L161.5 238.6 L162.0 238.6 L162.0 242.0 L162.5 242.0 L162.5 245.4 L163.0 245.4 L163.0 249.5 L163.5 249.5 L163.5 254.1 L164.0 254.1 L164.0 257.2 L164.5 257.2 L164.5 258.4 L165.0 258.4 L165.0 258.6 L165.5 258.6 L165.5 258.8 L166.0 258.8 L166.0 258.8 L166.5 258.8 L166.5 258.8 L167.0 258.8 L167.0 258.9 L167.5 258.9 L167.5 258.9 L168.0 258.9 L168.0 258.9 L168.5 258.9 L168.5 258.9 L169.0 258.9 L169.0 259.0 L169.5 259.0 L169.5 259.0 L170.0 259.0 L170.0 259.0 L170.5 259.0 L170.5 259.0 L171.0 259.0 L171.0 259.0 L171.5 259.0 L171.5 259.1 L172.0 259.1 L172.0 259.1 L172.5 259.1 L172.5 259.1 L173.0 259.1 L173.0 259.1 L173.5 259.1 L173.5 259.2 L174.0 259.2 L174.0 259.2 L174.5 259.2 L174.5 259.2 L175.0 259.2 L175.0 259.2 L175.5 259.2 L175.5 259.2 L176.0 259.2 L176.0 259.3 L176.5 259.3 L176.5 259.3 L177.0 259.3 L177.0 259.3 L177.5 259.3 L177.5 259.3 L178.0 259.3 L178.0 259.4 L178.5 259.4 L178.5 259.4 L179.0 259.4 L179.0 259.4 L179.5 259.4 L179.5 259.9 L180.0 259.9 L180.0 260.5 L180.5 260.5 L180.5 261.0 L181.0 261.0 L181.0 261.5 L181.5 261.5 L181.5 261.5 L182.0 261.5 L182.0 261.5 L182.5 261.5 L182.5 261.6 L183.0 261.6 L183.0 261.6 L183.5 261.6 L183.5 261.6 L184.0 261.6 L184.0 261.6 L184.5 261.6 L184.5 261.6 L185.0 261.6 L185.0 261.7 L185.5 261.7 L185.5 261.7 L186.0 261.7 L186.0 261.7 L186.5 261.7 L186.5 261.7 L187.0 261.7 L187.0 261.8 L187.5 261.8 L187.5 261.8 L188.0 261.8 L188.0 261.8 L188.5 261.8 L188.5 261.9 L189.0 261.9 L189.0 262.1 L189.5 262.1 L189.5 262.2 L190.0 262.2 L190.0 262.4 L190.5 262.4 L190.5 262.4 L191.0 262.4 L191.0 262.4 L191.5 262.4 L191.5 262.4 L192.0 262.4 L192.0 262.5 L192.5 262.5 L192.5 262.5 L193.0 262.5 L193.0 262.5 L193.5 262.5 L193.5 262.5 L194.0 262.5 L194.0 262.5 L194.5 262.5 L194.5 262.5 L195.0 262.5 L195.0 262.5 L195.5 262.5 L195.5 262.6 L196.0 262.6 L196.0 262.6 L196.5 262.6 L196.5 262.6 L197.0 262.6 L197.0 262.6 L197.5 262.6 L197.5 262.6 L198.0 262.6 L198.0 262.6 L198.5 262.6 L198.5 262.7 L199.0 262.7 L199.0 262.7 L199.5 262.7 L199.5 262.7 L200.0 262.7 L200.0 262.7 L200.5 262.7 L200.5 262.7 L201.0 262.7 L201.0 262.7 L201.5 262.7 L201.5 262.7 L202.0 262.7 L202.0 262.8 L202.5 262.8 L202.5 262.8 L203.0 262.8 L203.0 262.8 L203.5 262.8 L203.5 262.8 L204.0 262.8 L204.1 263.8 Z" fill="#ECC432"/>
<path d="M73.5 263.8 V248.6 M74.5 263.8 V258.3 M75.5 263.8 V259.3 M76.5 263.8 V259.8 M77.5 263.8 V260.8 M78.5 263.8 V261.3 M79.5 263.8 V261.8 M80.5 263.8 V262.3 M81.5 263.8 V262.3 M83.5 263.8 V262.5 M85.5 263.8 V262.5 M88.5 263.8 V262.5 M90.5 263.8 V262.5 M95.5 263.8 V262.6 " stroke="#FF2200" stroke-width="1" fill="none"/>
<path d="M150.5 263.8 V262.5 M155.5 263.8 V259.1 M157.5 263.8 V260.3 M158.5 263.8 V259.8 M159.5 263.8 V262.1 M161.5 263.8 V257.8 M163.5 263.8 V255.8 M165.5 263.8 V262.3 M167.5 263.8 V262.3 M176.5 263.8 V262.3 M178.5 263.8 V262.1 M188.5 263.8 V262.3 M203.5 263.8 V262.5 " stroke="#000000" stroke-width="1" fill="none"/>
<path d="M25.0 211.3 H27.6 V263.3 H25.0 M27.6 224.30 H25.4 M27.6 237.30 H25.4 M27.6 250.30 H25.4 " stroke="#777" stroke-width="0.7" fill="none"/>
<text x="22.7" y="213.8" font-size="7.9" text-anchor="end" font-family="Liberation Sans, Arial, sans-serif" fill="#111" stroke="#111" stroke-width="0.12">80</text>
<text x="21.8" y="265.5" font-size="7.9" text-anchor="end" font-family="Liberation Sans, Arial, sans-serif" fill="#111" stroke="#111" stroke-width="0.12">0</text>
<rect x="62.1" y="266.6" width="102.4" height="5.3" fill="#fff" stroke="#777" stroke-width="0.6"/>
<rect x="64.5" y="266.6" width="8.7" height="5.3" fill="#5AB4EE" stroke="#777" stroke-width="0.5"/>
<rect x="120.9" y="266.6" width="9.4" height="5.3" fill="#7DF9C0" stroke="#777" stroke-width="0.5"/>
<rect x="159.2" y="266.6" width="5.3" height="5.3" fill="#C2214F" stroke="#777" stroke-width="0.5"/>
<path d="M32.0 276.3 H227.0" stroke="#000" stroke-width="1.1"/>
<text x="34.4" y="211.1" font-size="12.1" font-family="Liberation Sans, Arial, sans-serif" fill="#000">novel tx 3</text>
<text x="110.8" y="284.7" font-size="8.1" font-style="italic" text-anchor="middle" font-family="Liberation Sans, Arial, sans-serif" fill="#111">chr7: 18035840 - 18038668</text>
<path d="M38.6 360.4 L38.6 359.8 L39.1 359.8 L39.1 359.8 L39.6 359.8 L39.6 359.8 L40.1 359.8 L40.1 359.8 L40.6 359.8 L40.6 359.8 L41.1 359.8 L41.1 359.8 L41.6 359.8 L41.6 359.8 L42.1 359.8 L42.1 359.8 L42.6 359.8 L42.6 359.8 L43.1 359.8 L43.1 359.8 L43.6 359.8 L43.6 359.8 L44.1 359.8 L44.1 359.8 L44.6 359.8 L44.6 359.8 L45.1 359.8 L45.1 359.8 L45.6 359.8 L45.6 359.8 L46.1 359.8 L46.1 359.8 L46.6 359.8 L46.6 359.8 L47.1 359.8 L47.1 359.8 L47.6 359.8 L47.6 359.8 L48.1 359.8 L48.1 359.8 L48.6 359.8 L48.6 359.8 L49.1 359.8 L49.1 359.8 L49.6 359.8 L49.6 359.8 L50.1 359.8 L50.1 359.8 L50.6 359.8 L50.6 359.8 L51.1 359.8 L51.1 359.8 L51.6 359.8 L51.6 359.8 L52.1 359.8 L52.1 359.8 L52.6 359.8 L52.6 359.8 L53.1 359.8 L53.1 359.8 L53.6 359.8 L53.6 359.8 L54.1 359.8 L54.1 359.8 L54.6 359.8 L54.6 359.8 L55.1 359.8 L55.1 359.8 L55.6 359.8 L55.6 359.8 L56.1 359.8 L56.1 359.8 L56.6 359.8 L56.6 359.8 L57.1 359.8 L57.1 359.8 L57.6 359.8 L57.6 359.8 L58.1 359.8 L58.1 359.8 L58.6 359.8 L58.6 359.8 L59.1 359.8 L59.1 359.8 L59.6 359.8 L59.6 359.8 L60.1 359.8 L60.1 359.7 L60.6 359.7 L60.6 359.6 L61.1 359.6 L61.1 359.5 L61.6 359.5 L61.6 359.4 L62.1 359.4 L62.1 359.3 L62.6 359.3 L62.6 359.2 L63.1 359.2 L63.1 359.1 L63.6 359.1 L63.6 359.0 L64.1 359.0 L64.1 358.9 L64.6 358.9 L64.6 356.1 L65.1 356.1 L65.1 351.5 L65.6 351.5 L65.6 346.6 L66.1 346.6 L66.1 341.7 L66.6 341.7 L66.6 336.7 L67.1 336.7 L67.1 332.7 L67.6 332.7 L67.6 330.3 L68.1 330.3 L68.1 327.9 L68.6 327.9 L68.6 325.7 L69.1 325.7 L69.1 324.5 L69.6 324.5 L69.6 323.3 L70.1 323.3 L70.1 322.1 L70.6 322.1 L70.6 321.0 L71.1 321.0 L71.1 319.9 L71.6 319.9 L71.6 318.7 L72.1 318.7 L72.1 317.6 L72.6 317.6 L72.6 316.5 L73.1 316.5 L73.1 315.8 L73.6 315.8 L73.6 315.4 L74.1 315.4 L74.1 315.0 L74.6 315.0 L74.6 314.6 L75.1 314.6 L75.1 314.3 L75.6 314.3 L75.6 313.9 L76.1 313.9 L76.1 313.5 L76.6 313.5 L76.6 313.1 L77.1 313.1 L77.1 312.6 L77.6 312.6 L77.6 312.2 L78.1 312.2 L78.1 311.7 L78.6 311.7 L78.6 311.3 L79.1 311.3 L79.1 310.9 L79.6 310.9 L79.6 311.2 L80.1 311.2 L80.1 310.6 L80.6 310.6 L80.6 310.5 L81.1 310.5 L81.1 310.5 L81.6 310.5 L81.6 311.0 L82.1 311.0 L82.1 311.0 L82.6 311.0 L82.6 311.0 L83.1 311.0 L83.1 311.0 L83.6 311.0 L83.6 311.0 L84.1 311.0 L84.1 310.9 L84.6 310.9 L84.6 310.9 L85.1 310.9 L85.1 309.6 L85.6 309.6 L85.6 309.6 L86.1 309.6 L86.1 309.6 L86.6 309.6 L86.6 309.6 L87.1 309.6 L87.1 310.1 L87.6 310.1 L87.6 310.1 L88.1 310.1 L88.1 310.1 L88.6 310.1 L88.6 310.8 L89.1 310.8 L89.1 310.8 L89.6 310.8 L89.6 311.0 L90.1 311.0 L90.1 311.0 L90.6 311.0 L90.6 311.0 L91.1 311.0 L91.1 311.0 L91.6 311.0 L91.6 311.0 L92.1 311.0 L92.1 311.0 L92.6 311.0 L92.6 311.0 L93.1 311.0 L93.1 310.3 L93.6 310.3 L93.6 310.3 L94.1 310.3 L94.1 317.9 L94.6 317.9 L94.6 314.9 L95.1 314.9 L95.1 310.3 L95.6 310.3 L95.6 311.0 L96.1 311.0 L96.1 311.0 L96.6 311.0 L96.6 311.0 L97.1 311.0 L97.1 311.0 L97.6 311.0 L97.6 309.7 L98.1 309.7 L98.1 309.7 L98.6 309.7 L98.6 309.7 L99.1 309.7 L99.1 309.7 L99.6 309.7 L99.6 309.7 L100.1 309.7 L100.1 309.7 L100.6 309.7 L100.6 309.7 L101.1 309.7 L101.1 310.1 L101.6 310.1 L101.6 310.1 L102.1 310.1 L102.1 310.1 L102.6 310.1 L102.6 310.1 L103.1 310.1 L103.1 310.1 L103.6 310.1 L103.6 310.1 L104.1 310.1 L104.1 310.1 L104.6 310.1 L104.6 310.1 L105.1 310.1 L105.1 310.1 L105.6 310.1 L105.6 310.7 L106.1 310.7 L106.1 310.7 L106.6 310.7 L106.6 310.7 L107.1 310.7 L107.1 310.7 L107.6 310.7 L107.6 310.7 L108.1 310.7 L108.1 311.0 L108.6 311.0 L108.6 310.3 L109.1 310.3 L109.1 310.3 L109.6 310.3 L109.6 310.3 L110.1 310.3 L110.1 310.3 L110.6 310.3 L110.6 310.3 L111.1 310.3 L111.1 310.3 L111.6 310.3 L111.6 310.3 L112.1 310.3 L112.1 310.3 L112.6 310.3 L112.6 310.3 L113.1 310.3 L113.1 310.3 L113.6 310.3 L113.6 309.8 L114.1 309.8 L114.1 311.0 L114.6 311.0 L114.6 311.0 L115.1 311.0 L115.1 311.0 L115.6 311.0 L115.6 311.0 L116.1 311.0 L116.1 311.0 L116.6 311.0 L116.6 311.0 L117.1 311.0 L117.1 309.9 L117.6 309.9 L117.6 310.1 L118.1 310.1 L118.1 309.9 L118.6 309.9 L118.6 309.9 L119.1 309.9 L119.1 309.9 L119.6 309.9 L119.6 310.0 L120.1 310.0 L120.1 310.0 L120.6 310.0 L120.6 310.0 L121.1 310.0 L121.1 310.0 L121.6 310.0 L121.6 310.0 L122.1 310.0 L122.1 310.0 L122.6 310.0 L122.6 310.0 L123.1 310.0 L123.1 310.0 L123.6 310.0 L123.6 310.0 L124.1 310.0 L124.1 310.4 L124.6 310.4 L124.6 310.4 L125.1 310.4 L125.1 310.4 L125.6 310.4 L125.6 310.0 L126.1 310.0 L126.1 310.0 L126.6 310.0 L126.6 310.0 L127.1 310.0 L127.1 310.0 L127.6 310.0 L127.6 310.0 L128.1 310.0 L128.1 310.0 L128.6 310.0 L128.6 310.0 L129.1 310.0 L129.1 309.6 L129.6 309.6 L129.6 309.6 L130.1 309.6 L130.1 309.6 L130.6 309.6 L130.6 309.7 L131.1 309.7 L131.1 309.7 L131.6 309.7 L131.6 310.2 L132.1 310.2 L132.1 310.2 L132.6 310.2 L132.6 310.2 L133.1 310.2 L133.1 310.2 L133.6 310.2 L133.6 310.2 L134.1 310.2 L134.1 310.2 L134.6 310.2 L134.6 309.9 L135.1 309.9 L135.1 309.9 L135.6 309.9 L135.6 309.9 L136.1 309.9 L136.1 309.9 L136.6 309.9 L136.6 309.9 L137.1 309.9 L137.1 309.9 L137.6 309.9 L137.6 309.9 L138.1 309.9 L138.1 309.9 L138.6 309.9 L138.6 309.9 L139.1 309.9 L139.1 310.9 L139.6 310.9 L139.6 310.9 L140.1 310.9 L140.1 310.9 L140.6 310.9 L140.6 310.9 L141.1 310.9 L141.1 310.9 L141.6 310.9 L141.6 310.0 L142.1 310.0 L142.1 310.0 L142.6 310.0 L142.6 310.0 L143.1 310.0 L143.1 309.7 L143.6 309.7 L143.6 309.7 L144.1 309.7 L144.1 309.7 L144.6 309.7 L144.6 309.8 L145.1 309.8 L145.1 309.8 L145.6 309.8 L145.6 309.8 L146.1 309.8 L146.1 310.1 L146.6 310.1 L146.6 310.1 L147.1 310.1 L147.1 310.1 L147.6 310.1 L147.6 310.1 L148.1 310.1 L148.1 310.1 L148.6 310.1 L148.6 310.1 L149.1 310.1 L149.1 310.1 L149.6 310.1 L149.6 310.1 L150.1 310.1 L150.1 310.1 L150.6 310.1 L150.6 310.1 L151.1 310.1 L151.1 310.1 L151.6 310.1 L151.6 310.5 L152.1 310.5 L152.1 310.5 L152.6 310.5 L152.6 310.5 L153.1 310.5 L153.1 310.5 L153.6 310.5 L153.6 310.5 L154.1 310.5 L154.1 310.5 L154.6 310.5 L154.6 310.5 L155.1 310.5 L155.1 310.2 L155.6 310.2 L155.6 310.2 L156.1 310.2 L156.1 310.2 L156.6 310.2 L156.6 310.9 L157.1 310.9 L157.1 310.9 L157.6 310.9 L157.6 310.9 L158.1 310.9 L158.1 311.2 L158.6 311.2 L158.6 311.2 L159.1 311.2 L159.1 311.2 L159.6 311.2 L159.6 311.2 L160.1 311.2 L160.1 311.2 L160.6 311.2 L160.6 311.2 L161.1 311.2 L161.1 311.2 L161.6 311.2 L161.6 311.2 L162.1 311.2 L162.1 311.2 L162.6 311.2 L162.6 310.0 L163.1 310.0 L163.1 310.0 L163.6 310.0 L163.6 310.0 L164.1 310.0 L164.1 310.0 L164.6 310.0 L164.6 310.3 L165.1 310.3 L165.1 311.3 L165.6 311.3 L165.6 309.8 L166.1 309.8 L166.1 310.3 L166.6 310.3 L166.6 310.3 L167.1 310.3 L167.1 311.0 L167.6 311.0 L167.6 313.5 L168.1 313.5 L168.1 315.9 L168.6 315.9 L168.6 318.4 L169.1 318.4 L169.1 320.9 L169.6 320.9 L169.6 323.3 L170.1 323.3 L170.1 326.1 L170.6 326.1 L170.6 329.8 L171.1 329.8 L171.1 333.6 L171.6 333.6 L171.6 337.4 L172.1 337.4 L172.1 341.0 L172.6 341.0 L172.6 344.1 L173.1 344.1 L173.1 349.2 L173.6 349.2 L173.6 356.1 L174.1 356.1 L174.1 357.3 L174.6 357.3 L174.6 358.4 L175.1 358.4 L175.1 358.5 L175.6 358.5 L175.6 358.7 L176.1 358.7 L176.1 358.8 L176.6 358.8 L176.6 359.0 L177.1 359.0 L177.1 359.1 L177.6 359.1 L177.6 359.3 L178.1 359.3 L178.1 359.4 L178.6 359.4 L178.6 359.4 L179.1 359.4 L179.1 359.4 L179.6 359.4 L179.6 359.5 L180.1 359.5 L180.1 359.5 L180.6 359.5 L180.6 359.5 L181.1 359.5 L181.1 359.5 L181.6 359.5 L181.6 359.6 L182.1 359.6 L182.1 359.6 L182.6 359.6 L182.6 359.6 L183.1 359.6 L183.1 359.6 L183.6 359.6 L183.6 359.7 L184.1 359.7 L184.1 359.7 L184.6 359.7 L184.6 359.7 L185.1 359.7 L185.1 359.7 L185.6 359.7 L185.6 359.7 L186.1 359.7 L186.1 359.8 L186.6 359.8 L186.6 359.8 L187.1 359.8 L187.1 359.8 L187.6 359.8 L187.6 359.8 L188.1 359.8 L188.5 360.4 Z" fill="#ECC432"/>
<path d="M62.5 360.4 V359.1 M63.5 360.4 V358.4 M64.5 360.4 V354.9 M65.5 360.4 V350.6 M66.5 360.4 V352.4 M67.5 360.4 V355.9 M68.5 360.4 V354.9 M69.5 360.4 V357.5 M70.5 360.4 V356.9 M71.5 360.4 V358.4 M72.5 360.4 V358.7 M73.5 360.4 V355.9 M74.5 360.4 V358.7 M76.5 360.4 V358.9 M77.5 360.4 V357.9 M80.5 360.4 V358.9 M81.5 360.4 V359.1 M83.5 360.4 V358.9 M84.5 360.4 V359.1 " stroke="#FF2200" stroke-width="1" fill="none"/>
<path d="M165.5 360.4 V359.1 M166.5 360.4 V358.7 M167.5 360.4 V358.4 M168.5 360.4 V356.4 M169.5 360.4 V353.4 M170.5 360.4 V355.9 M171.5 360.4 V357.9 M172.5 360.4 V339.9 M173.5 360.4 V357.9 M174.5 360.4 V358.7 M175.5 360.4 V359.1 " stroke="#000000" stroke-width="1" fill="none"/>
<path d="M25.0 308.3 H27.6 V359.9 H25.0 M27.6 316.90 H25.4 M27.6 325.50 H25.4 M27.6 334.10 H25.4 M27.6 342.70 H25.4 M27.6 351.30 H25.4 " stroke="#777" stroke-width="0.7" fill="none"/>
<text x="22.2" y="310.8" font-size="7.9" text-anchor="end" font-family="Liberation Sans, Arial, sans-serif" fill="#111" stroke="#111" stroke-width="0.12">300</text>
<text x="21.5" y="362.1" font-size="7.9" text-anchor="end" font-family="Liberation Sans, Arial, sans-serif" fill="#111" stroke="#111" stroke-width="0.12">0</text>
<rect x="55.4" y="363.8" width="119.9" height="5.4" fill="#fff" stroke="#777" stroke-width="0.6"/>
<rect x="65.1" y="363.8" width="10.8" height="5.4" fill="#5AB4EE" stroke="#777" stroke-width="0.5"/>
<rect x="111.1" y="363.8" width="11.5" height="5.4" fill="#7DF9C0" stroke="#777" stroke-width="0.5"/>
<rect x="168.9" y="363.8" width="6.4" height="5.4" fill="#C2214F" stroke="#777" stroke-width="0.5"/>
<path d="M32.0 373.5 H227.0" stroke="#000" stroke-width="1.1"/>
<text x="34.2" y="304.8" font-size="12.1" font-family="Liberation Sans, Arial, sans-serif" fill="#000">novel tx 4 / AluSx SINE Alu</text>
<text x="115.2" y="381.7" font-size="8.1" font-style="italic" text-anchor="middle" font-family="Liberation Sans, Arial, sans-serif" fill="#111">chr10: 49387375 - 49387495</text>
<path d="M277.0 77.2 L277.0 76.2 L277.5 76.2 L277.5 76.2 L278.0 76.2 L278.0 76.2 L278.5 76.2 L278.5 76.2 L279.0 76.2 L279.0 76.1 L279.5 76.1 L279.5 76.1 L280.0 76.1 L280.0 76.1 L280.5 76.1 L280.5 76.1 L281.0 76.1 L281.0 76.1 L281.5 76.1 L281.5 76.1 L282.0 76.1 L282.0 76.1 L282.5 76.1 L282.5 76.1 L283.0 76.1 L283.0 76.0 L283.5 76.0 L283.5 76.0 L284.0 76.0 L284.0 76.0 L284.5 76.0 L284.5 76.0 L285.0 76.0 L285.0 76.0 L285.5 76.0 L285.5 76.0 L286.0 76.0 L286.0 76.0 L286.5 76.0 L286.5 75.9 L287.0 75.9 L287.0 75.9 L287.5 75.9 L287.5 75.9 L288.0 75.9 L288.0 75.9 L288.5 75.9 L288.5 75.7 L289.0 75.7 L289.0 75.4 L289.5 75.4 L289.5 75.2 L290.0 75.2 L290.0 75.0 L290.5 75.0 L290.5 74.7 L291.0 74.7 L291.0 44.7 L291.5 44.7 L291.5 42.6 L292.0 42.6 L292.0 42.1 L292.5 42.1 L292.5 42.1 L293.0 42.1 L293.0 42.0 L293.5 42.0 L293.5 42.0 L294.0 42.0 L294.0 41.9 L294.5 41.9 L294.5 42.4 L295.0 42.4 L295.0 42.3 L295.5 42.3 L295.5 41.9 L296.0 41.9 L296.0 40.0 L296.5 40.0 L296.5 38.9 L297.0 38.9 L297.0 38.8 L297.5 38.8 L297.5 38.8 L298.0 38.8 L298.0 38.0 L298.5 38.0 L298.5 37.9 L299.0 37.9 L299.0 37.9 L299.5 37.9 L299.5 37.9 L300.0 37.9 L300.0 39.0 L300.5 39.0 L300.5 41.8 L301.0 41.8 L301.0 44.0 L301.5 44.0 L301.5 44.0 L302.0 44.0 L302.0 44.0 L302.5 44.0 L302.5 44.0 L303.0 44.0 L303.0 41.9 L303.5 41.9 L303.5 37.9 L304.0 37.9 L304.0 35.9 L304.5 35.9 L304.5 33.8 L305.0 33.8 L305.0 32.4 L305.5 32.4 L305.5 32.4 L306.0 32.4 L306.0 32.4 L306.5 32.4 L306.5 32.4 L307.0 32.4 L307.0 32.6 L307.5 32.6 L307.5 32.6 L308.0 32.6 L308.0 32.6 L308.5 32.6 L308.5 32.4 L309.0 32.4 L309.0 32.4 L309.5 32.4 L309.5 35.0 L310.0 35.0 L310.0 35.0 L310.5 35.0 L310.5 32.5 L311.0 32.5 L311.0 32.0 L311.5 32.0 L311.5 33.1 L312.0 33.1 L312.0 33.1 L312.5 33.1 L312.5 33.1 L313.0 33.1 L313.0 33.1 L313.5 33.1 L313.5 33.1 L314.0 33.1 L314.0 33.1 L314.5 33.1 L314.5 33.1 L315.0 33.1 L315.0 33.1 L315.5 33.1 L315.5 33.1 L316.0 33.1 L316.0 33.1 L316.5 33.1 L316.5 33.1 L317.0 33.1 L317.0 33.1 L317.5 33.1 L317.5 32.9 L318.0 32.9 L318.0 34.9 L318.5 34.9 L318.5 34.9 L319.0 34.9 L319.0 32.9 L319.5 32.9 L319.5 32.3 L320.0 32.3 L320.0 32.3 L320.5 32.3 L320.5 32.3 L321.0 32.3 L321.0 32.3 L321.5 32.3 L321.5 32.3 L322.0 32.3 L322.0 32.3 L322.5 32.3 L322.5 32.3 L323.0 32.3 L323.0 32.3 L323.5 32.3 L323.5 32.3 L324.0 32.3 L324.0 33.0 L324.5 33.0 L324.5 33.0 L325.0 33.0 L325.0 33.0 L325.5 33.0 L325.5 33.0 L326.0 33.0 L326.0 33.0 L326.5 33.0 L326.5 33.0 L327.0 33.0 L327.0 33.0 L327.5 33.0 L327.5 33.0 L328.0 33.0 L328.0 33.0 L328.5 33.0 L328.5 34.7 L329.0 34.7 L329.0 34.7 L329.5 34.7 L329.5 32.2 L330.0 32.2 L330.0 32.0 L330.5 32.0 L330.5 32.0 L331.0 32.0 L331.0 32.0 L331.5 32.0 L331.5 32.0 L332.0 32.0 L332.0 32.0 L332.5 32.0 L332.5 32.0 L333.0 32.0 L333.0 32.0 L333.5 32.0 L333.5 32.1 L334.0 32.1 L334.0 32.1 L334.5 32.1 L334.5 32.1 L335.0 32.1 L335.0 32.1 L335.5 32.1 L335.5 32.1 L336.0 32.1 L336.0 32.1 L336.5 32.1 L336.5 32.1 L337.0 32.1 L337.0 32.1 L337.5 32.1 L337.5 32.1 L338.0 32.1 L338.0 32.1 L338.5 32.1 L338.5 32.1 L339.0 32.1 L339.0 33.0 L339.5 33.0 L339.5 35.0 L340.0 35.0 L340.0 35.0 L340.5 35.0 L340.5 33.0 L341.0 33.0 L341.0 33.0 L341.5 33.0 L341.5 32.3 L342.0 32.3 L342.0 32.3 L342.5 32.3 L342.5 33.1 L343.0 33.1 L343.0 33.1 L343.5 33.1 L343.5 33.1 L344.0 33.1 L344.0 33.1 L344.5 33.1 L344.5 33.1 L345.0 33.1 L345.0 33.1 L345.5 33.1 L345.5 33.1 L346.0 33.1 L346.0 33.1 L346.5 33.1 L346.5 37.1 L347.0 37.1 L347.0 37.1 L347.5 37.1 L347.5 32.6 L348.0 32.6 L348.0 32.6 L348.5 32.6 L348.5 32.6 L349.0 32.6 L349.0 32.6 L349.5 32.6 L349.5 32.4 L350.0 32.4 L350.0 32.2 L350.5 32.2 L350.5 32.2 L351.0 32.2 L351.0 32.2 L351.5 32.2 L351.5 32.2 L352.0 32.2 L352.0 32.2 L352.5 32.2 L352.5 32.2 L353.0 32.2 L353.0 32.2 L353.5 32.2 L353.5 32.2 L354.0 32.2 L354.0 32.2 L354.5 32.2 L354.5 32.2 L355.0 32.2 L355.0 34.7 L355.5 34.7 L355.5 34.7 L356.0 34.7 L356.0 32.4 L356.5 32.4 L356.5 32.2 L357.0 32.2 L357.0 32.2 L357.5 32.2 L357.5 32.2 L358.0 32.2 L358.0 32.2 L358.5 32.2 L358.5 32.0 L359.0 32.0 L359.0 32.0 L359.5 32.0 L359.5 32.0 L360.0 32.0 L360.0 32.4 L360.5 32.4 L360.5 33.0 L361.0 33.0 L361.0 33.0 L361.5 33.0 L361.5 32.1 L362.0 32.1 L362.0 32.1 L362.5 32.1 L362.5 32.1 L363.0 32.1 L363.0 32.1 L363.5 32.1 L363.5 32.2 L364.0 32.2 L364.0 32.2 L364.5 32.2 L364.5 34.7 L365.0 34.7 L365.0 34.7 L365.5 34.7 L365.5 32.2 L366.0 32.2 L366.0 32.2 L366.5 32.2 L366.5 32.2 L367.0 32.2 L367.0 32.2 L367.5 32.2 L367.5 32.2 L368.0 32.2 L368.0 32.2 L368.5 32.2 L368.5 32.2 L369.0 32.2 L369.0 32.2 L369.5 32.2 L369.5 32.2 L370.0 32.2 L370.0 32.9 L370.5 32.9 L370.5 34.0 L371.0 34.0 L371.0 34.0 L371.5 34.0 L371.5 32.0 L372.0 32.0 L372.0 32.0 L372.5 32.0 L372.5 32.0 L373.0 32.0 L373.0 32.0 L373.5 32.0 L373.5 32.0 L374.0 32.0 L374.0 32.0 L374.5 32.0 L374.5 32.0 L375.0 32.0 L375.0 32.0 L375.5 32.0 L375.5 32.0 L376.0 32.0 L376.0 32.7 L376.5 32.7 L376.5 32.7 L377.0 32.7 L377.0 32.7 L377.5 32.7 L377.5 32.3 L378.0 32.3 L378.0 32.3 L378.5 32.3 L378.5 32.3 L379.0 32.3 L379.0 32.6 L379.5 32.6 L379.5 32.6 L380.0 32.6 L380.0 32.6 L380.5 32.6 L380.5 32.2 L381.0 32.2 L381.0 32.2 L381.5 32.2 L381.5 34.5 L382.0 34.5 L382.0 34.5 L382.5 34.5 L382.5 34.5 L383.0 34.5 L383.0 39.0 L383.5 39.0 L383.5 37.9 L384.0 37.9 L384.0 34.1 L384.5 34.1 L384.5 34.1 L385.0 34.1 L385.0 35.0 L385.5 35.0 L385.5 35.0 L386.0 35.0 L386.0 35.0 L386.5 35.0 L386.5 35.0 L387.0 35.0 L387.0 35.0 L387.5 35.0 L387.5 34.8 L388.0 34.8 L388.0 34.8 L388.5 34.8 L388.5 36.8 L389.0 36.8 L389.0 36.8 L389.5 36.8 L389.5 34.8 L390.0 34.8 L390.0 34.2 L390.5 34.2 L390.5 34.2 L391.0 34.2 L391.0 34.2 L391.5 34.2 L391.5 34.2 L392.0 34.2 L392.0 34.2 L392.5 34.2 L392.5 34.2 L393.0 34.2 L393.0 34.3 L393.5 34.3 L393.5 34.8 L394.0 34.8 L394.0 34.9 L394.5 34.9 L394.5 35.3 L395.0 35.3 L395.0 35.1 L395.5 35.1 L395.5 35.2 L396.0 35.2 L396.0 35.3 L396.5 35.3 L396.5 36.9 L397.0 36.9 L397.0 37.0 L397.5 37.0 L397.5 35.6 L398.0 35.6 L398.0 35.7 L398.5 35.7 L398.5 35.8 L399.0 35.8 L399.0 35.9 L399.5 35.9 L399.5 36.0 L400.0 36.0 L400.0 36.1 L400.5 36.1 L400.5 36.2 L401.0 36.2 L401.0 36.3 L401.5 36.3 L401.5 36.4 L402.0 36.4 L402.0 36.5 L402.5 36.5 L402.5 36.8 L403.0 36.8 L403.0 36.9 L403.5 36.9 L403.5 36.7 L404.0 36.7 L404.0 36.9 L404.5 36.9 L404.5 37.6 L405.0 37.6 L405.0 37.8 L405.5 37.8 L405.5 38.3 L406.0 38.3 L406.0 38.6 L406.5 38.6 L406.5 38.6 L407.0 38.6 L407.0 39.0 L407.5 39.0 L407.5 39.5 L408.0 39.5 L408.0 39.9 L408.5 39.9 L408.5 40.4 L409.0 40.4 L409.0 44.7 L409.5 44.7 L409.5 54.7 L410.0 54.7 L410.0 65.2 L410.5 65.2 L410.5 73.8 L411.0 73.8 L411.0 74.0 L411.5 74.0 L411.5 74.3 L412.0 74.3 L412.0 74.6 L412.5 74.6 L412.5 74.9 L413.0 74.9 L413.0 75.1 L413.5 75.1 L413.5 75.4 L414.0 75.4 L414.0 75.7 L414.5 75.7 L414.5 75.8 L415.0 75.8 L415.0 75.8 L415.5 75.8 L415.5 75.9 L416.0 75.9 L416.0 76.0 L416.5 76.0 L416.5 76.0 L417.0 76.0 L417.0 76.1 L417.5 76.1 L417.5 76.1 L418.0 76.1 L418.0 76.2 L418.5 76.2 L418.5 77.2 Z" fill="#ECC432"/>
<path d="M277.5 77.2 V75.9 M281.5 77.2 V75.9 M287.5 77.2 V75.5 M288.5 77.2 V74.7 M289.5 77.2 V73.7 M290.5 77.2 V71.7 M291.5 77.2 V58.2 M292.5 77.2 V74.2 M294.5 77.2 V75.7 M295.5 77.2 V75.7 M300.5 77.2 V75.9 M303.5 77.2 V75.7 M304.5 77.2 V73.7 " stroke="#000000" stroke-width="1" fill="none"/>
<path d="M392.5 77.2 V76.0 M396.5 77.2 V76.0 M400.5 77.2 V76.0 M403.5 77.2 V75.9 M405.5 77.2 V75.9 M407.5 77.2 V75.7 M408.5 77.2 V74.7 M409.5 77.2 V68.7 M410.5 77.2 V56.7 M411.5 77.2 V72.7 M412.5 77.2 V75.2 M413.5 77.2 V75.7 M415.5 77.2 V75.9 M417.5 77.2 V76.1 " stroke="#FF2200" stroke-width="1" fill="none"/>
<path d="M249.0 25.5 H251.6 V76.7 H249.0 M251.6 35.74 H249.4 M251.6 45.98 H249.4 M251.6 56.22 H249.4 M251.6 66.46 H249.4 " stroke="#777" stroke-width="0.7" fill="none"/>
<text x="246.9" y="28.0" font-size="7.9" text-anchor="end" font-family="Liberation Sans, Arial, sans-serif" fill="#111" stroke="#111" stroke-width="0.12">100</text>
<text x="246.9" y="78.9" font-size="7.9" text-anchor="end" font-family="Liberation Sans, Arial, sans-serif" fill="#111" stroke="#111" stroke-width="0.12">0</text>
<rect x="287.8" y="80.5" width="136.0" height="5.3" fill="#fff" stroke="#777" stroke-width="0.6"/>
<rect x="287.8" y="80.5" width="5.0" height="5.3" fill="#C2214F" stroke="#777" stroke-width="0.5"/>
<rect x="333.4" y="80.5" width="11.1" height="5.3" fill="#7DF9C0" stroke="#777" stroke-width="0.5"/>
<rect x="403.6" y="80.5" width="11.1" height="5.3" fill="#5AB4EE" stroke="#777" stroke-width="0.5"/>
<path d="M255.7 90.4 H451.0" stroke="#000" stroke-width="1.1"/>
<text x="264.0" y="22.2" font-size="12.1" font-family="Liberation Sans, Arial, sans-serif" fill="#000">novel tx 5</text>
<text x="345.8" y="99.4" font-size="8.1" font-style="italic" text-anchor="middle" font-family="Liberation Sans, Arial, sans-serif" fill="#111">chr7: 28405584 - 28405720</text>
<path d="M293.8 171.1 L293.8 170.1 L294.3 170.1 L294.3 170.1 L294.8 170.1 L294.8 170.0 L295.3 170.0 L295.3 170.0 L295.8 170.0 L295.8 170.0 L296.3 170.0 L296.3 170.0 L296.8 170.0 L296.8 169.9 L297.3 169.9 L297.3 169.9 L297.8 169.9 L297.8 169.9 L298.3 169.9 L298.3 169.8 L298.8 169.8 L298.8 169.8 L299.3 169.8 L299.3 169.4 L299.8 169.4 L299.8 168.8 L300.3 168.8 L300.3 168.2 L300.8 168.2 L300.8 167.6 L301.3 167.6 L301.3 148.6 L301.8 148.6 L301.8 141.2 L302.3 141.2 L302.3 136.9 L302.8 136.9 L302.8 133.3 L303.3 133.3 L303.3 130.4 L303.8 130.4 L303.8 128.6 L304.3 128.6 L304.3 127.5 L304.8 127.5 L304.8 126.5 L305.3 126.5 L305.3 125.8 L305.8 125.8 L305.8 125.2 L306.3 125.2 L306.3 124.6 L306.8 124.6 L306.8 124.1 L307.3 124.1 L307.3 123.5 L307.8 123.5 L307.8 123.3 L308.3 123.3 L308.3 123.0 L308.8 123.0 L308.8 122.8 L309.3 122.8 L309.3 122.6 L309.8 122.6 L309.8 122.5 L310.3 122.5 L310.3 122.5 L310.8 122.5 L310.8 122.5 L311.3 122.5 L311.3 122.5 L311.8 122.5 L311.8 122.5 L312.3 122.5 L312.3 122.8 L312.8 122.8 L312.8 122.8 L313.3 122.8 L313.3 122.8 L313.8 122.8 L313.8 122.8 L314.3 122.8 L314.3 122.9 L314.8 122.9 L314.8 122.9 L315.3 122.9 L315.3 122.9 L315.8 122.9 L315.8 122.9 L316.3 122.9 L316.3 122.8 L316.8 122.8 L316.8 122.8 L317.3 122.8 L317.3 122.4 L317.8 122.4 L317.8 122.4 L318.3 122.4 L318.3 122.9 L318.8 122.9 L318.8 122.9 L319.3 122.9 L319.3 122.9 L319.8 122.9 L319.8 122.5 L320.3 122.5 L320.3 122.5 L320.8 122.5 L320.8 122.3 L321.3 122.3 L321.3 122.3 L321.8 122.3 L321.8 123.8 L322.3 123.8 L322.3 123.7 L322.8 123.7 L322.8 122.9 L323.3 122.9 L323.3 122.9 L323.8 122.9 L323.8 122.9 L324.3 122.9 L324.3 122.8 L324.8 122.8 L324.8 122.5 L325.3 122.5 L325.3 122.5 L325.8 122.5 L325.8 122.5 L326.3 122.5 L326.3 122.5 L326.8 122.5 L326.8 122.5 L327.3 122.5 L327.3 122.5 L327.8 122.5 L327.8 122.5 L328.3 122.5 L328.3 122.9 L328.8 122.9 L328.8 122.9 L329.3 122.9 L329.3 122.9 L329.8 122.9 L329.8 122.9 L330.3 122.9 L330.3 122.9 L330.8 122.9 L330.8 122.9 L331.3 122.9 L331.3 122.9 L331.8 122.9 L331.8 122.9 L332.3 122.9 L332.3 122.9 L332.8 122.9 L332.8 124.1 L333.3 124.1 L333.3 123.9 L333.8 123.9 L333.8 122.8 L334.3 122.8 L334.3 122.8 L334.8 122.8 L334.8 122.8 L335.3 122.8 L335.3 122.8 L335.8 122.8 L335.8 122.8 L336.3 122.8 L336.3 122.8 L336.8 122.8 L336.8 122.8 L337.3 122.8 L337.3 122.1 L337.8 122.1 L337.8 122.6 L338.3 122.6 L338.3 122.6 L338.8 122.6 L338.8 122.6 L339.3 122.6 L339.3 122.6 L339.8 122.6 L339.8 122.3 L340.3 122.3 L340.3 122.3 L340.8 122.3 L340.8 122.1 L341.3 122.1 L341.3 122.1 L341.8 122.1 L341.8 122.4 L342.3 122.4 L342.3 122.4 L342.8 122.4 L342.8 122.4 L343.3 122.4 L343.3 122.4 L343.8 122.4 L343.8 122.6 L344.3 122.6 L344.3 122.6 L344.8 122.6 L344.8 122.9 L345.3 122.9 L345.3 122.9 L345.8 122.9 L345.8 122.1 L346.3 122.1 L346.3 122.1 L346.8 122.1 L346.8 122.1 L347.3 122.1 L347.3 122.1 L347.8 122.1 L347.8 122.1 L348.3 122.1 L348.3 122.1 L348.8 122.1 L348.8 122.6 L349.3 122.6 L349.3 122.6 L349.8 122.6 L349.8 124.1 L350.3 124.1 L350.3 124.1 L350.8 124.1 L350.8 122.6 L351.3 122.6 L351.3 122.6 L351.8 122.6 L351.8 122.6 L352.3 122.6 L352.3 122.6 L352.8 122.6 L352.8 122.6 L353.3 122.6 L353.3 122.5 L353.8 122.5 L353.8 122.5 L354.3 122.5 L354.3 122.5 L354.8 122.5 L354.8 122.8 L355.3 122.8 L355.3 122.5 L355.8 122.5 L355.8 122.5 L356.3 122.5 L356.3 122.2 L356.8 122.2 L356.8 122.2 L357.3 122.2 L357.3 122.2 L357.8 122.2 L357.8 122.2 L358.3 122.2 L358.3 122.2 L358.8 122.2 L358.8 122.3 L359.3 122.3 L359.3 122.3 L359.8 122.3 L359.8 122.9 L360.3 122.9 L360.3 122.9 L360.8 122.9 L360.8 122.9 L361.3 122.9 L361.3 122.8 L361.8 122.8 L361.8 122.8 L362.3 122.8 L362.3 122.8 L362.8 122.8 L362.8 122.8 L363.3 122.8 L363.3 122.8 L363.8 122.8 L363.8 122.8 L364.3 122.8 L364.3 122.3 L364.8 122.3 L364.8 122.4 L365.3 122.4 L365.3 122.4 L365.8 122.4 L365.8 123.6 L366.3 123.6 L366.3 123.6 L366.8 123.6 L366.8 122.4 L367.3 122.4 L367.3 122.4 L367.8 122.4 L367.8 122.4 L368.3 122.4 L368.3 122.4 L368.8 122.4 L368.8 122.4 L369.3 122.4 L369.3 122.4 L369.8 122.4 L369.8 122.4 L370.3 122.4 L370.3 122.4 L370.8 122.4 L370.8 122.4 L371.3 122.4 L371.3 122.8 L371.8 122.8 L371.8 122.3 L372.3 122.3 L372.3 122.3 L372.8 122.3 L372.8 122.3 L373.3 122.3 L373.3 122.3 L373.8 122.3 L373.8 122.3 L374.3 122.3 L374.3 122.3 L374.8 122.3 L374.8 122.3 L375.3 122.3 L375.3 122.3 L375.8 122.3 L375.8 122.3 L376.3 122.3 L376.3 122.3 L376.8 122.3 L376.8 122.3 L377.3 122.3 L377.3 122.3 L377.8 122.3 L377.8 123.8 L378.3 123.8 L378.3 123.8 L378.8 123.8 L378.8 122.3 L379.3 122.3 L379.3 122.3 L379.8 122.3 L379.8 122.3 L380.3 122.3 L380.3 122.3 L380.8 122.3 L380.8 122.3 L381.3 122.3 L381.3 122.3 L381.8 122.3 L381.8 122.3 L382.3 122.3 L382.3 122.3 L382.8 122.3 L382.8 122.6 L383.3 122.6 L383.3 122.9 L383.8 122.9 L383.8 122.1 L384.3 122.1 L384.3 122.9 L384.8 122.9 L384.8 122.9 L385.3 122.9 L385.3 122.1 L385.8 122.1 L385.8 122.7 L386.3 122.7 L386.3 122.7 L386.8 122.7 L386.8 122.7 L387.3 122.7 L387.3 122.7 L387.8 122.7 L387.8 122.6 L388.3 122.6 L388.3 122.6 L388.8 122.6 L388.8 122.6 L389.3 122.6 L389.3 122.5 L389.8 122.5 L389.8 123.8 L390.3 123.8 L390.3 123.5 L390.8 123.5 L390.8 122.5 L391.3 122.5 L391.3 122.6 L391.8 122.6 L391.8 122.6 L392.3 122.6 L392.3 122.9 L392.8 122.9 L392.8 122.9 L393.3 122.9 L393.3 122.9 L393.8 122.9 L393.8 122.3 L394.3 122.3 L394.3 122.1 L394.8 122.1 L394.8 122.1 L395.3 122.1 L395.3 122.1 L395.8 122.1 L395.8 122.1 L396.3 122.1 L396.3 122.1 L396.8 122.1 L396.8 122.2 L397.3 122.2 L397.3 122.2 L397.8 122.2 L397.8 122.2 L398.3 122.2 L398.3 122.2 L398.8 122.2 L398.8 122.4 L399.3 122.4 L399.3 122.6 L399.8 122.6 L399.8 122.8 L400.3 122.8 L400.3 123.2 L400.8 123.2 L400.8 123.5 L401.3 123.5 L401.3 123.8 L401.8 123.8 L401.8 124.1 L402.3 124.1 L402.3 124.4 L402.8 124.4 L402.8 124.8 L403.3 124.8 L403.3 125.2 L403.8 125.2 L403.8 125.5 L404.3 125.5 L404.3 125.9 L404.8 125.9 L404.8 126.3 L405.3 126.3 L405.3 126.7 L405.8 126.7 L405.8 127.2 L406.3 127.2 L406.3 127.7 L406.8 127.7 L406.8 128.2 L407.3 128.2 L407.3 128.6 L407.8 128.6 L407.8 129.1 L408.3 129.1 L408.3 129.6 L408.8 129.6 L408.8 130.1 L409.3 130.1 L409.3 131.8 L409.8 131.8 L409.8 133.8 L410.3 133.8 L410.3 138.2 L410.8 138.2 L410.8 144.5 L411.3 144.5 L411.3 152.1 L411.8 152.1 L411.8 159.6 L412.3 159.6 L412.3 164.4 L412.8 164.4 L412.8 167.4 L413.3 167.4 L413.3 168.7 L413.8 168.7 L413.8 168.8 L414.3 168.8 L414.3 168.9 L414.8 168.9 L414.8 169.0 L415.3 169.0 L415.3 169.1 L415.8 169.1 L415.8 169.2 L416.3 169.2 L416.3 169.3 L416.8 169.3 L416.8 169.5 L417.3 169.5 L417.3 169.6 L417.8 169.6 L417.8 169.7 L418.3 169.7 L418.3 169.8 L418.8 169.8 L418.8 169.9 L419.3 169.9 L419.3 170.0 L419.8 170.0 L420.2 171.1 Z" fill="#ECC432"/>
<path d="M296.5 171.1 V169.8 M297.5 171.1 V169.6 M298.5 171.1 V168.6 M299.5 171.1 V159.6 M300.5 171.1 V168.6 M301.5 171.1 V154.2 M302.5 171.1 V168.1 M303.5 171.1 V163.6 M304.5 171.1 V169.1 M305.5 171.1 V169.4 M306.5 171.1 V167.6 M307.5 171.1 V169.6 M308.5 171.1 V169.8 M309.5 171.1 V169.8 " stroke="#000000" stroke-width="1" fill="none"/>
<path d="M405.5 171.1 V169.8 M406.5 171.1 V169.6 M407.5 171.1 V169.1 M408.5 171.1 V167.6 M409.5 171.1 V164.6 M410.5 171.1 V161.6 M411.5 171.1 V158.6 M412.5 171.1 V152.6 M413.5 171.1 V165.6 M414.5 171.1 V168.6 M415.5 171.1 V169.6 M417.5 171.1 V169.8 " stroke="#FF2200" stroke-width="1" fill="none"/>
<path d="M249.0 119.2 H251.6 V170.6 H249.0 M251.6 129.48 H249.4 M251.6 139.76 H249.4 M251.6 150.04 H249.4 M251.6 160.32 H249.4 " stroke="#777" stroke-width="0.7" fill="none"/>
<text x="247.2" y="121.7" font-size="7.9" text-anchor="end" font-family="Liberation Sans, Arial, sans-serif" fill="#111" stroke="#111" stroke-width="0.12">250</text>
<text x="247.0" y="172.8" font-size="7.9" text-anchor="end" font-family="Liberation Sans, Arial, sans-serif" fill="#111" stroke="#111" stroke-width="0.12">0</text>
<rect x="302.4" y="174.2" width="120.4" height="5.4" fill="#fff" stroke="#777" stroke-width="0.6"/>
<rect x="302.4" y="174.2" width="5.2" height="5.4" fill="#C2214F" stroke="#777" stroke-width="0.5"/>
<rect x="322.3" y="174.2" width="13.3" height="5.4" fill="#7DF9C0" stroke="#777" stroke-width="0.5"/>
<rect x="394.1" y="174.2" width="4.6" height="5.4" fill="#E6AC55" stroke="#777" stroke-width="0.5"/>
<rect x="402.2" y="174.2" width="14.4" height="5.4" fill="#5AB4EE" stroke="#777" stroke-width="0.5"/>
<path d="M255.7 184.4 H451.0" stroke="#000" stroke-width="1.1"/>
<text x="264.0" y="116.9" font-size="12.1" font-family="Liberation Sans, Arial, sans-serif" fill="#000">novel tx 6</text>
<text x="363.3" y="193.4" font-size="8.1" font-style="italic" text-anchor="middle" font-family="Liberation Sans, Arial, sans-serif" fill="#111">chr8: 106864059 - 106864155</text>
<path d="M267.5 263.6 L267.5 262.6 L268.0 262.6 L268.0 262.0 L268.5 262.0 L268.5 261.3 L269.0 261.3 L269.0 260.8 L269.5 260.8 L269.5 260.8 L270.0 260.8 L270.0 260.8 L270.5 260.8 L270.5 260.8 L271.0 260.8 L271.0 260.8 L271.5 260.8 L271.5 260.8 L272.0 260.8 L272.0 260.8 L272.5 260.8 L272.5 260.8 L273.0 260.8 L273.0 260.8 L273.5 260.8 L273.5 260.8 L274.0 260.8 L274.0 260.8 L274.5 260.8 L274.5 260.8 L275.0 260.8 L275.0 260.8 L275.5 260.8 L275.5 260.8 L276.0 260.8 L276.0 260.8 L276.5 260.8 L276.5 260.8 L277.0 260.8 L277.0 260.8 L277.5 260.8 L277.5 260.8 L278.0 260.8 L278.0 260.7 L278.5 260.7 L278.5 260.7 L279.0 260.7 L279.0 260.7 L279.5 260.7 L279.5 260.7 L280.0 260.7 L280.0 260.7 L280.5 260.7 L280.5 260.7 L281.0 260.7 L281.0 260.7 L281.5 260.7 L281.5 260.7 L282.0 260.7 L282.0 260.7 L282.5 260.7 L282.5 260.7 L283.0 260.7 L283.0 260.7 L283.5 260.7 L283.5 260.7 L284.0 260.7 L284.0 260.7 L284.5 260.7 L284.5 260.7 L285.0 260.7 L285.0 260.7 L285.5 260.7 L285.5 260.7 L286.0 260.7 L286.0 260.7 L286.5 260.7 L286.5 260.7 L287.0 260.7 L287.0 260.7 L287.5 260.7 L287.5 260.7 L288.0 260.7 L288.0 260.7 L288.5 260.7 L288.5 260.7 L289.0 260.7 L289.0 260.7 L289.5 260.7 L289.5 260.7 L290.0 260.7 L290.0 260.7 L290.5 260.7 L290.5 260.7 L291.0 260.7 L291.0 260.7 L291.5 260.7 L291.5 260.7 L292.0 260.7 L292.0 260.7 L292.5 260.7 L292.5 260.7 L293.0 260.7 L293.0 260.7 L293.5 260.7 L293.5 260.7 L294.0 260.7 L294.0 260.7 L294.5 260.7 L294.5 260.7 L295.0 260.7 L295.0 260.7 L295.5 260.7 L295.5 260.7 L296.0 260.7 L296.0 260.6 L296.5 260.6 L296.5 260.6 L297.0 260.6 L297.0 260.6 L297.5 260.6 L297.5 260.6 L298.0 260.6 L298.0 260.6 L298.5 260.6 L298.5 260.6 L299.0 260.6 L299.0 260.6 L299.5 260.6 L299.5 260.6 L300.0 260.6 L300.0 260.6 L300.5 260.6 L300.5 260.6 L301.0 260.6 L301.0 260.6 L301.5 260.6 L301.5 260.6 L302.0 260.6 L302.0 260.6 L302.5 260.6 L302.5 260.6 L303.0 260.6 L303.0 260.6 L303.5 260.6 L303.5 260.6 L304.0 260.6 L304.0 260.6 L304.5 260.6 L304.5 260.6 L305.0 260.6 L305.0 260.6 L305.5 260.6 L305.5 260.6 L306.0 260.6 L306.0 260.6 L306.5 260.6 L306.5 260.6 L307.0 260.6 L307.0 260.6 L307.5 260.6 L307.5 260.6 L308.0 260.6 L308.0 260.6 L308.5 260.6 L308.5 260.6 L309.0 260.6 L309.0 260.6 L309.5 260.6 L309.5 260.6 L310.0 260.6 L310.0 260.6 L310.5 260.6 L310.5 260.6 L311.0 260.6 L311.0 260.6 L311.5 260.6 L311.5 260.6 L312.0 260.6 L312.0 260.6 L312.5 260.6 L312.5 260.6 L313.0 260.6 L313.0 260.6 L313.5 260.6 L313.5 260.6 L314.0 260.6 L314.0 260.5 L314.5 260.5 L314.5 260.5 L315.0 260.5 L315.0 260.5 L315.5 260.5 L315.5 260.5 L316.0 260.5 L316.0 260.5 L316.5 260.5 L316.5 260.5 L317.0 260.5 L317.0 260.5 L317.5 260.5 L317.5 260.5 L318.0 260.5 L318.0 260.5 L318.5 260.5 L318.5 260.5 L319.0 260.5 L319.0 260.5 L319.5 260.5 L319.5 260.5 L320.0 260.5 L320.0 260.5 L320.5 260.5 L320.5 260.5 L321.0 260.5 L321.0 260.5 L321.5 260.5 L321.5 260.5 L322.0 260.5 L322.0 260.5 L322.5 260.5 L322.5 260.5 L323.0 260.5 L323.0 260.5 L323.5 260.5 L323.5 260.7 L324.0 260.7 L324.0 261.0 L324.5 261.0 L324.5 261.2 L325.0 261.2 L325.0 261.5 L325.5 261.5 L325.5 261.7 L326.0 261.7 L326.0 261.7 L326.5 261.7 L326.5 261.7 L327.0 261.7 L327.0 261.7 L327.5 261.7 L327.5 261.7 L328.0 261.7 L328.0 261.8 L328.5 261.8 L328.5 261.8 L329.0 261.8 L329.0 261.8 L329.5 261.8 L329.5 261.8 L330.0 261.8 L330.0 261.8 L330.5 261.8 L330.5 261.8 L331.0 261.8 L331.0 261.9 L331.5 261.9 L331.5 261.9 L332.0 261.9 L332.0 261.9 L332.5 261.9 L332.5 261.9 L333.0 261.9 L333.0 262.0 L333.5 262.0 L333.5 262.0 L334.0 262.0 L334.0 262.0 L334.5 262.0 L334.5 262.0 L335.0 262.0 L335.0 262.1 L335.5 262.1 L335.5 262.1 L336.0 262.1 L336.0 262.1 L336.5 262.1 L336.5 262.1 L337.0 262.1 L337.0 262.1 L337.5 262.1 L337.5 262.1 L338.0 262.1 L338.0 262.0 L338.5 262.0 L338.5 262.0 L339.0 262.0 L339.0 262.0 L339.5 262.0 L339.5 262.0 L340.0 262.0 L340.0 262.0 L340.5 262.0 L340.5 262.0 L341.0 262.0 L341.0 261.9 L341.5 261.9 L341.5 261.9 L342.0 261.9 L342.0 261.9 L342.5 261.9 L342.5 255.7 L343.0 255.7 L343.0 236.8 L343.5 236.8 L343.5 235.9 L344.0 235.9 L344.0 236.3 L344.5 236.3 L344.5 236.7 L345.0 236.7 L345.0 237.1 L345.5 237.1 L345.5 238.3 L346.0 238.3 L346.0 237.7 L346.5 237.7 L346.5 236.6 L347.0 236.6 L347.0 235.0 L347.5 235.0 L347.5 233.5 L348.0 233.5 L348.0 232.1 L348.5 232.1 L348.5 230.4 L349.0 230.4 L349.0 228.6 L349.5 228.6 L349.5 227.4 L350.0 227.4 L350.0 226.1 L350.5 226.1 L350.5 225.1 L351.0 225.1 L351.0 224.1 L351.5 224.1 L351.5 223.5 L352.0 223.5 L352.0 222.8 L352.5 222.8 L352.5 222.5 L353.0 222.5 L353.0 222.2 L353.5 222.2 L353.5 221.9 L354.0 221.9 L354.0 221.6 L354.5 221.6 L354.5 221.6 L355.0 221.6 L355.0 221.6 L355.5 221.6 L355.5 221.6 L356.0 221.6 L356.0 221.6 L356.5 221.6 L356.5 221.6 L357.0 221.6 L357.0 221.6 L357.5 221.6 L357.5 221.6 L358.0 221.6 L358.0 221.6 L358.5 221.6 L358.5 221.8 L359.0 221.8 L359.0 221.8 L359.5 221.8 L359.5 221.8 L360.0 221.8 L360.0 221.8 L360.5 221.8 L360.5 221.8 L361.0 221.8 L361.0 221.8 L361.5 221.8 L361.5 224.3 L362.0 224.3 L362.0 224.3 L362.5 224.3 L362.5 221.3 L363.0 221.3 L363.0 222.2 L363.5 222.2 L363.5 222.2 L364.0 222.2 L364.0 221.9 L364.5 221.9 L364.5 221.9 L365.0 221.9 L365.0 221.9 L365.5 221.9 L365.5 221.9 L366.0 221.9 L366.0 221.9 L366.5 221.9 L366.5 221.9 L367.0 221.9 L367.0 221.9 L367.5 221.9 L367.5 221.9 L368.0 221.9 L368.0 221.9 L368.5 221.9 L368.5 222.1 L369.0 222.1 L369.0 222.1 L369.5 222.1 L369.5 222.1 L370.0 222.1 L370.0 224.2 L370.5 224.2 L370.5 224.2 L371.0 224.2 L371.0 222.2 L371.5 222.2 L371.5 222.2 L372.0 222.2 L372.0 222.2 L372.5 222.2 L372.5 222.2 L373.0 222.2 L373.0 222.2 L373.5 222.2 L373.5 222.2 L374.0 222.2 L374.0 222.4 L374.5 222.4 L374.5 221.5 L375.0 221.5 L375.0 221.5 L375.5 221.5 L375.5 221.5 L376.0 221.5 L376.0 221.5 L376.5 221.5 L376.5 221.5 L377.0 221.5 L377.0 221.5 L377.5 221.5 L377.5 221.5 L378.0 221.5 L378.0 221.5 L378.5 221.5 L378.5 221.5 L379.0 221.5 L379.0 223.0 L379.5 223.0 L379.5 223.0 L380.0 223.0 L380.0 221.5 L380.5 221.5 L380.5 221.5 L381.0 221.5 L381.0 221.5 L381.5 221.5 L381.5 222.3 L382.0 222.3 L382.0 222.3 L382.5 222.3 L382.5 222.3 L383.0 222.3 L383.0 221.8 L383.5 221.8 L383.5 223.8 L384.0 223.8 L384.0 223.8 L384.5 223.8 L384.5 221.9 L385.0 221.9 L385.0 221.9 L385.5 221.9 L385.5 221.9 L386.0 221.9 L386.0 221.7 L386.5 221.7 L386.5 221.7 L387.0 221.7 L387.0 221.7 L387.5 221.7 L387.5 226.0 L388.0 226.0 L388.0 226.0 L388.5 226.0 L388.5 221.5 L389.0 221.5 L389.0 221.5 L389.5 221.5 L389.5 221.7 L390.0 221.7 L390.0 222.5 L390.5 222.5 L390.5 222.5 L391.0 222.5 L391.0 222.5 L391.5 222.5 L391.5 221.8 L392.0 221.8 L392.0 221.8 L392.5 221.8 L392.5 221.8 L393.0 221.8 L393.0 221.8 L393.5 221.8 L393.5 221.8 L394.0 221.8 L394.0 222.1 L394.5 222.1 L394.5 221.5 L395.0 221.5 L395.0 221.5 L395.5 221.5 L395.5 221.8 L396.0 221.8 L396.0 223.3 L396.5 223.3 L396.5 223.3 L397.0 223.3 L397.0 221.8 L397.5 221.8 L397.5 221.8 L398.0 221.8 L398.0 221.8 L398.5 221.8 L398.5 222.0 L399.0 222.0 L399.0 222.0 L399.5 222.0 L399.5 222.0 L400.0 222.0 L400.0 222.0 L400.5 222.0 L400.5 222.0 L401.0 222.0 L401.0 222.0 L401.5 222.0 L401.5 222.0 L402.0 222.0 L402.0 224.0 L402.5 224.0 L402.5 224.0 L403.0 224.0 L403.0 222.0 L403.5 222.0 L403.5 222.0 L404.0 222.0 L404.0 222.0 L404.5 222.0 L404.5 222.0 L405.0 222.0 L405.0 222.0 L405.5 222.0 L405.5 222.0 L406.0 222.0 L406.0 222.0 L406.5 222.0 L406.5 222.0 L407.0 222.0 L407.0 222.0 L407.5 222.0 L407.5 222.0 L408.0 222.0 L408.0 221.8 L408.5 221.8 L408.5 221.8 L409.0 221.8 L409.0 221.8 L409.5 221.8 L409.5 221.8 L410.0 221.8 L410.0 221.8 L410.5 221.8 L410.5 221.8 L411.0 221.8 L411.0 221.8 L411.5 221.8 L411.5 221.8 L412.0 221.8 L412.0 222.0 L412.5 222.0 L412.5 222.2 L413.0 222.2 L413.0 222.4 L413.5 222.4 L413.5 222.6 L414.0 222.6 L414.0 222.8 L414.5 222.8 L414.5 223.0 L415.0 223.0 L415.0 223.2 L415.5 223.2 L415.5 223.4 L416.0 223.4 L416.0 223.6 L416.5 223.6 L416.5 223.8 L417.0 223.8 L417.0 224.0 L417.5 224.0 L417.5 224.2 L418.0 224.2 L418.0 224.4 L418.5 224.4 L418.5 224.6 L419.0 224.6 L419.0 225.0 L419.5 225.0 L419.5 225.5 L420.0 225.5 L420.0 226.0 L420.5 226.0 L420.5 226.5 L421.0 226.5 L421.0 227.1 L421.5 227.1 L421.5 228.1 L422.0 228.1 L422.0 229.1 L422.5 229.1 L422.5 230.1 L423.0 230.1 L423.0 231.1 L423.5 231.1 L423.5 232.3 L424.0 232.3 L424.0 233.6 L424.5 233.6 L424.5 234.9 L425.0 234.9 L425.0 236.3 L425.5 236.3 L425.5 237.6 L426.0 237.6 L426.0 239.4 L426.5 239.4 L426.5 241.3 L427.0 241.3 L427.0 243.1 L427.5 243.1 L427.5 245.0 L428.0 245.0 L428.0 246.9 L428.5 246.9 L428.5 249.0 L429.0 249.0 L429.0 251.4 L429.5 251.4 L429.5 258.9 L430.0 258.9 L430.0 261.4 L430.5 261.4 L430.5 261.7 L431.0 261.7 L431.0 262.0 L431.5 262.0 L431.5 262.3 L432.0 262.3 L432.0 262.4 L432.5 262.4 L432.5 262.6 L433.0 262.6 L433.0 262.7 L433.5 262.7 L433.5 263.6 Z" fill="#ECC432"/>
<path d="M268.5 263.6 V261.8 M342.5 263.6 V260.1 M343.5 263.6 V251.6 M344.5 263.6 V260.1 M347.5 263.6 V261.9 M349.5 263.6 V259.1 M350.5 263.6 V261.9 M351.5 263.6 V260.6 M353.5 263.6 V261.6 " stroke="#000000" stroke-width="1" fill="none"/>
<path d="M418.5 263.6 V262.3 M419.5 263.6 V262.1 M420.5 263.6 V262.1 M421.5 263.6 V261.9 M422.5 263.6 V261.6 M423.5 263.6 V261.6 M424.5 263.6 V259.1 M425.5 263.6 V261.6 M426.5 263.6 V260.6 M427.5 263.6 V261.6 M428.5 263.6 V251.4 M429.5 263.6 V261.1 M430.5 263.6 V262.1 M431.5 263.6 V262.3 " stroke="#FF2200" stroke-width="1" fill="none"/>
<path d="M248.0 211.5 H250.6 V263.1 H248.0 M250.6 224.40 H248.4 M250.6 237.30 H248.4 M250.6 250.20 H248.4 " stroke="#777" stroke-width="0.7" fill="none"/>
<text x="246.8" y="214.0" font-size="7.9" text-anchor="end" font-family="Liberation Sans, Arial, sans-serif" fill="#111" stroke="#111" stroke-width="0.12">400</text>
<text x="246.8" y="265.3" font-size="7.9" text-anchor="end" font-family="Liberation Sans, Arial, sans-serif" fill="#111" stroke="#111" stroke-width="0.12">0</text>
<rect x="270.0" y="266.3" width="163.6" height="5.5" fill="#fff" stroke="#777" stroke-width="0.6"/>
<rect x="270.0" y="266.3" width="2.9" height="5.5" fill="#C2214F" stroke="#777" stroke-width="0.5"/>
<rect x="347.2" y="266.3" width="3.2" height="5.5" fill="#C2214F" stroke="#777" stroke-width="0.5"/>
<rect x="390.4" y="266.3" width="6.9" height="5.5" fill="#7DF9C0" stroke="#777" stroke-width="0.5"/>
<rect x="418.6" y="266.3" width="7.0" height="5.5" fill="#5AB4EE" stroke="#777" stroke-width="0.5"/>
<path d="M255.0 276.4 H451.0" stroke="#000" stroke-width="1.1"/>
<text x="262.0" y="211.9" font-size="12.1" font-family="Liberation Sans, Arial, sans-serif" fill="#000">novel tx 7</text>
<text x="358.6" y="284.7" font-size="8.1" font-style="italic" text-anchor="middle" font-family="Liberation Sans, Arial, sans-serif" fill="#111">chr16: 22298375 - 22298625</text>
<path d="M295.3 360.4 L295.3 359.4 L295.8 359.4 L295.8 347.6 L296.3 347.6 L296.3 347.6 L296.8 347.6 L296.8 347.6 L297.3 347.6 L297.3 347.6 L297.8 347.6 L297.8 347.6 L298.3 347.6 L298.3 347.6 L298.8 347.6 L298.8 347.6 L299.3 347.6 L299.3 347.6 L299.8 347.6 L299.8 347.6 L300.3 347.6 L300.3 347.6 L300.8 347.6 L300.8 355.9 L301.3 355.9 L301.3 354.9 L301.8 354.9 L301.8 338.9 L302.3 338.9 L302.3 336.4 L302.8 336.4 L302.8 329.6 L303.3 329.6 L303.3 324.3 L303.8 324.3 L303.8 319.9 L304.3 319.9 L304.3 317.5 L304.8 317.5 L304.8 316.4 L305.3 316.4 L305.3 315.4 L305.8 315.4 L305.8 314.7 L306.3 314.7 L306.3 314.5 L306.8 314.5 L306.8 314.5 L307.3 314.5 L307.3 314.5 L307.8 314.5 L307.8 314.7 L308.3 314.7 L308.3 314.7 L308.8 314.7 L308.8 314.7 L309.3 314.7 L309.3 314.7 L309.8 314.7 L309.8 316.7 L310.3 316.7 L310.3 316.5 L310.8 316.5 L310.8 314.8 L311.3 314.8 L311.3 314.8 L311.8 314.8 L311.8 314.8 L312.3 314.8 L312.3 314.5 L312.8 314.5 L312.8 314.5 L313.3 314.5 L313.3 314.4 L313.8 314.4 L313.8 314.4 L314.3 314.4 L314.3 314.3 L314.8 314.3 L314.8 316.0 L315.3 316.0 L315.3 318.9 L315.8 318.9 L315.8 318.9 L316.3 318.9 L316.3 318.8 L316.8 318.8 L316.8 318.8 L317.3 318.8 L317.3 318.7 L317.8 318.7 L317.8 318.7 L318.3 318.7 L318.3 318.6 L318.8 318.6 L318.8 318.6 L319.3 318.6 L319.3 318.5 L319.8 318.5 L319.8 318.5 L320.3 318.5 L320.3 318.4 L320.8 318.4 L320.8 316.6 L321.3 316.6 L321.3 313.7 L321.8 313.7 L321.8 313.2 L322.3 313.2 L322.3 313.3 L322.8 313.3 L322.8 313.3 L323.3 313.3 L323.3 313.3 L323.8 313.3 L323.8 313.4 L324.3 313.4 L324.3 313.6 L324.8 313.6 L324.8 313.6 L325.3 313.6 L325.3 313.6 L325.8 313.6 L325.8 314.1 L326.3 314.1 L326.3 314.1 L326.8 314.1 L326.8 316.0 L327.3 316.0 L327.3 316.1 L327.8 316.1 L327.8 313.3 L328.3 313.3 L328.3 313.3 L328.8 313.3 L328.8 313.4 L329.3 313.4 L329.3 313.4 L329.8 313.4 L329.8 313.4 L330.3 313.4 L330.3 313.5 L330.8 313.5 L330.8 313.5 L331.3 313.5 L331.3 317.0 L331.8 317.0 L331.8 317.0 L332.3 317.0 L332.3 314.2 L332.8 314.2 L332.8 314.2 L333.3 314.2 L333.3 313.2 L333.8 313.2 L333.8 313.2 L334.3 313.2 L334.3 313.2 L334.8 313.2 L334.8 313.2 L335.3 313.2 L335.3 313.3 L335.8 313.3 L335.8 313.3 L336.3 313.3 L336.3 315.3 L336.8 315.3 L336.8 315.3 L337.3 315.3 L337.3 313.4 L337.8 313.4 L337.8 313.4 L338.3 313.4 L338.3 313.4 L338.8 313.4 L338.8 313.5 L339.3 313.5 L339.3 313.5 L339.8 313.5 L339.8 313.5 L340.3 313.5 L340.3 313.5 L340.8 313.5 L340.8 314.7 L341.3 314.7 L341.3 314.7 L341.8 314.7 L341.8 314.7 L342.3 314.7 L342.3 314.8 L342.8 314.8 L342.8 314.8 L343.3 314.8 L343.3 314.3 L343.8 314.3 L343.8 317.3 L344.3 317.3 L344.3 317.3 L344.8 317.3 L344.8 317.3 L345.3 317.3 L345.3 317.3 L345.8 317.3 L345.8 317.3 L346.3 317.3 L346.3 317.3 L346.8 317.3 L346.8 317.3 L347.3 317.3 L347.3 317.3 L347.8 317.3 L347.8 317.3 L348.3 317.3 L348.3 317.3 L348.8 317.3 L348.8 317.3 L349.3 317.3 L349.3 317.3 L349.8 317.3 L349.8 317.3 L350.3 317.3 L350.3 317.3 L350.8 317.3 L350.8 317.3 L351.3 317.3 L351.3 317.3 L351.8 317.3 L351.8 321.5 L352.3 321.5 L352.3 329.9 L352.8 329.9 L352.8 329.9 L353.3 329.9 L353.3 327.9 L353.8 327.9 L353.8 317.9 L354.3 317.9 L354.3 313.9 L354.8 313.9 L354.8 313.6 L355.3 313.6 L355.3 313.6 L355.8 313.6 L355.8 312.3 L356.3 312.3 L356.3 312.3 L356.8 312.3 L356.8 312.3 L357.3 312.3 L357.3 312.3 L357.8 312.3 L357.8 312.3 L358.3 312.3 L358.3 312.3 L358.8 312.3 L358.8 312.3 L359.3 312.3 L359.3 312.3 L359.8 312.3 L359.8 312.3 L360.3 312.3 L360.3 312.3 L360.8 312.3 L360.8 312.3 L361.3 312.3 L361.3 312.3 L361.8 312.3 L361.8 315.6 L362.3 315.6 L362.3 315.6 L362.8 315.6 L362.8 313.6 L363.3 313.6 L363.3 313.6 L363.8 313.6 L363.8 313.6 L364.3 313.6 L364.3 312.3 L364.8 312.3 L364.8 312.3 L365.3 312.3 L365.3 312.3 L365.8 312.3 L365.8 312.3 L366.3 312.3 L366.3 312.5 L366.8 312.5 L366.8 312.5 L367.3 312.5 L367.3 312.5 L367.8 312.5 L367.8 312.5 L368.3 312.5 L368.3 313.7 L368.8 313.7 L368.8 313.7 L369.3 313.7 L369.3 313.7 L369.8 313.7 L369.8 313.7 L370.3 313.7 L370.3 313.7 L370.8 313.7 L370.8 316.2 L371.3 316.2 L371.3 316.2 L371.8 316.2 L371.8 313.7 L372.3 313.7 L372.3 313.7 L372.8 313.7 L372.8 313.4 L373.3 313.4 L373.3 313.4 L373.8 313.4 L373.8 313.4 L374.3 313.4 L374.3 313.4 L374.8 313.4 L374.8 313.4 L375.3 313.4 L375.3 313.4 L375.8 313.4 L375.8 313.4 L376.3 313.4 L376.3 313.4 L376.8 313.4 L376.8 313.1 L377.3 313.1 L377.3 313.0 L377.8 313.0 L377.8 313.1 L378.3 313.1 L378.3 313.1 L378.8 313.1 L378.8 313.1 L379.3 313.1 L379.3 314.6 L379.8 314.6 L379.8 315.1 L380.3 315.1 L380.3 315.1 L380.8 315.1 L380.8 313.6 L381.3 313.6 L381.3 313.6 L381.8 313.6 L381.8 313.6 L382.3 313.6 L382.3 313.6 L382.8 313.6 L382.8 313.6 L383.3 313.6 L383.3 313.6 L383.8 313.6 L383.8 313.3 L384.3 313.3 L384.3 313.3 L384.8 313.3 L384.8 313.3 L385.3 313.3 L385.3 313.3 L385.8 313.3 L385.8 313.3 L386.3 313.3 L386.3 313.3 L386.8 313.3 L386.8 313.3 L387.3 313.3 L387.3 313.3 L387.8 313.3 L387.8 313.3 L388.3 313.3 L388.3 313.3 L388.8 313.3 L388.8 313.4 L389.3 313.4 L389.3 313.4 L389.8 313.4 L389.8 313.4 L390.3 313.4 L390.3 313.4 L390.8 313.4 L390.8 313.4 L391.3 313.4 L391.3 313.4 L391.8 313.4 L391.8 313.4 L392.3 313.4 L392.3 313.4 L392.8 313.4 L392.8 315.5 L393.3 315.5 L393.3 315.5 L393.8 315.5 L393.8 313.0 L394.3 313.0 L394.3 313.0 L394.8 313.0 L394.8 313.0 L395.3 313.0 L395.3 313.0 L395.8 313.0 L395.8 313.0 L396.3 313.0 L396.3 313.0 L396.8 313.0 L396.8 313.0 L397.3 313.0 L397.3 313.0 L397.8 313.0 L397.8 313.0 L398.3 313.0 L398.3 313.0 L398.8 313.0 L398.8 313.0 L399.3 313.0 L399.3 313.0 L399.8 313.0 L399.8 313.0 L400.3 313.0 L400.3 313.0 L400.8 313.0 L400.8 313.0 L401.3 313.0 L401.3 313.0 L401.8 313.0 L401.8 314.5 L402.3 314.5 L402.3 315.0 L402.8 315.0 L402.8 313.5 L403.3 313.5 L403.3 313.5 L403.8 313.5 L403.8 312.8 L404.3 312.8 L404.3 312.6 L404.8 312.6 L404.8 312.6 L405.3 312.6 L405.3 312.6 L405.8 312.6 L405.8 312.6 L406.3 312.6 L406.3 312.6 L406.8 312.6 L406.8 312.6 L407.3 312.6 L407.3 312.6 L407.8 312.6 L407.8 312.6 L408.3 312.6 L408.3 312.6 L408.8 312.6 L408.8 312.6 L409.3 312.6 L409.3 312.6 L409.8 312.6 L409.8 312.6 L410.3 312.6 L410.3 313.4 L410.8 313.4 L410.8 313.4 L411.3 313.4 L411.3 313.4 L411.8 313.4 L411.8 312.6 L412.3 312.6 L412.3 313.5 L412.8 313.5 L412.8 313.5 L413.3 313.5 L413.3 313.5 L413.8 313.5 L413.8 313.5 L414.3 313.5 L414.3 313.5 L414.8 313.5 L414.8 315.4 L415.3 315.4 L415.3 322.7 L415.8 322.7 L415.8 331.5 L416.3 331.5 L416.3 333.2 L416.8 333.2 L416.8 334.8 L417.3 334.8 L417.3 336.4 L417.8 336.4 L417.8 356.9 L418.3 356.9 L418.3 357.5 L418.8 357.5 L418.8 358.0 L419.3 358.0 L419.3 358.6 L419.8 358.6 L419.8 359.2 L420.3 359.2 L420.5 360.4 Z" fill="#ECC432"/>
<path d="M294.5 360.4 V357.9 M295.5 360.4 V351.4 M296.5 360.4 V357.9 M297.5 360.4 V356.9 M298.5 360.4 V358.9 M300.5 360.4 V357.9 M301.5 360.4 V353.9 M302.5 360.4 V357.4 M303.5 360.4 V348.4 M304.5 360.4 V356.9 M305.5 360.4 V358.4 M307.5 360.4 V358.9 M308.5 360.4 V358.7 M309.5 360.4 V359.1 M318.5 360.4 V358.9 " stroke="#000000" stroke-width="1" fill="none"/>
<path d="M412.5 360.4 V359.1 M413.5 360.4 V358.7 M414.5 360.4 V357.9 M415.5 360.4 V347.2 M416.5 360.4 V355.9 M417.5 360.4 V336.4 M418.5 360.4 V356.9 M419.5 360.4 V358.7 " stroke="#FF2200" stroke-width="1" fill="none"/>
<path d="M247.0 308.3 H249.6 V359.9 H247.0 M249.6 318.62 H247.4 M249.6 328.94 H247.4 M249.6 339.26 H247.4 M249.6 349.58 H247.4 " stroke="#777" stroke-width="0.7" fill="none"/>
<text x="245.1" y="310.8" font-size="7.9" text-anchor="end" font-family="Liberation Sans, Arial, sans-serif" fill="#111" stroke="#111" stroke-width="0.12">50</text>
<text x="245.8" y="362.1" font-size="7.9" text-anchor="end" font-family="Liberation Sans, Arial, sans-serif" fill="#111" stroke="#111" stroke-width="0.12">0</text>
<rect x="302.4" y="364.1" width="121.0" height="5.4" fill="#fff" stroke="#777" stroke-width="0.6"/>
<rect x="302.4" y="364.1" width="4.5" height="5.4" fill="#C2214F" stroke="#777" stroke-width="0.5"/>
<rect x="358.3" y="364.1" width="11.2" height="5.4" fill="#7DF9C0" stroke="#777" stroke-width="0.5"/>
<rect x="400.1" y="364.1" width="11.4" height="5.4" fill="#5AB4EE" stroke="#777" stroke-width="0.5"/>
<path d="M254.1 373.5 H451.0" stroke="#000" stroke-width="1.1"/>
<text x="262.0" y="304.2" font-size="12.1" font-family="Liberation Sans, Arial, sans-serif" fill="#000">novel tx 8</text>
<text x="363.3" y="383.4" font-size="8.1" font-style="italic" text-anchor="middle" font-family="Liberation Sans, Arial, sans-serif" fill="#111">chr11: 93243600 - 93243720</text>
<rect x="439.3" y="36.4" width="19.4" height="4.7" fill="#5AB4EE" stroke="#666" stroke-width="0.6"/>
<text x="462.4" y="41.3" font-size="8" font-family="Liberation Sans, Arial, sans-serif" fill="#111">A box</text>
<rect x="439.3" y="46.6" width="19.4" height="4.7" fill="#7DF9C0" stroke="#666" stroke-width="0.6"/>
<text x="462.4" y="51.5" font-size="8" font-family="Liberation Sans, Arial, sans-serif" fill="#111">B box</text>
<rect x="439.3" y="57.2" width="19.4" height="4.7" fill="#E6AC55" stroke="#666" stroke-width="0.6"/>
<text x="462.4" y="62.2" font-size="8" font-family="Liberation Sans, Arial, sans-serif" fill="#111">TATA box</text>
<rect x="439.3" y="67.4" width="19.4" height="4.7" fill="#C2214F" stroke="#666" stroke-width="0.6"/>
<text x="462.4" y="72.4" font-size="8" font-family="Liberation Sans, Arial, sans-serif" fill="#111">poly(T)</text>
<text x="0.5" y="15.4" font-size="19.6" font-family="Liberation Sans, Arial, sans-serif" fill="#000">a</text>
<text x="513.6" y="15.6" font-size="18.8" font-family="Liberation Sans, Arial, sans-serif" fill="#000">b</text>
<text x="621.3" y="33" font-size="12" text-anchor="middle" font-family="Liberation Sans, Arial, sans-serif" fill="#111">Pol II Inhibition</text>
<text x="620.4" y="45.0" font-size="10" text-anchor="middle" font-family="Liberation Sans, Arial, sans-serif" fill="#111">50 mg/ml α-amanitin for 24h</text>
<path d="M623.3 68.3 V340.5 M631.9 68.3 V340.5" stroke="#F04040" stroke-width="0.7" stroke-dasharray="1.2 1.2" fill="none"/>
<rect x="612.84" y="72.50" width="14.76" height="12.7" fill="#48C45E"/>
<text x="578.9" y="81.5" font-size="8.1" text-anchor="end" font-family="Liberation Sans, Arial, sans-serif" fill="#111">POLR3A</text>
<rect x="608.07" y="90.50" width="19.53" height="12.7" fill="#48C45E"/>
<text x="578.9" y="99.5" font-size="8.1" text-anchor="end" font-family="Liberation Sans, Arial, sans-serif" fill="#111">GAPDH</text>
<rect x="594.40" y="108.50" width="33.20" height="12.7" fill="#48C45E"/>
<text x="578.9" y="117.5" font-size="8.1" text-anchor="end" font-family="Liberation Sans, Arial, sans-serif" fill="#111">c−MYC</text>
<rect x="627.60" y="126.50" width="5.21" height="12.7" fill="#EF5128"/>
<text x="578.9" y="135.5" font-size="8.1" text-anchor="end" font-family="Liberation Sans, Arial, sans-serif" fill="#111">RN7SK</text>
<rect x="627.60" y="144.50" width="16.41" height="12.7" fill="#EF5128"/>
<text x="578.9" y="153.5" font-size="8.1" text-anchor="end" font-family="Liberation Sans, Arial, sans-serif" fill="#111">VTRNA1−1</text>
<rect x="627.60" y="162.50" width="1.52" height="12.7" fill="#EF5128"/>
<text x="578.9" y="171.5" font-size="8.1" text-anchor="end" font-family="Liberation Sans, Arial, sans-serif" fill="#111">RMRP</text>
<rect x="627.60" y="180.50" width="6.21" height="12.7" fill="#EF5128"/>
<text x="578.9" y="189.5" font-size="8.1" text-anchor="end" font-family="Liberation Sans, Arial, sans-serif" fill="#111">RNA5−8SN5</text>
<rect x="627.25" y="198.50" width="0.35" height="12.7" fill="#A9A9A9"/>
<text x="578.9" y="207.5" font-size="8.1" text-anchor="end" font-family="Liberation Sans, Arial, sans-serif" fill="#111">novel tx 8</text>
<rect x="627.60" y="216.50" width="15.62" height="12.7" fill="#EF5128"/>
<text x="578.9" y="225.5" font-size="8.1" text-anchor="end" font-family="Liberation Sans, Arial, sans-serif" fill="#111">novel tx 7</text>
<rect x="592.01" y="234.50" width="35.59" height="12.7" fill="#48C45E"/>
<text x="578.9" y="243.5" font-size="8.1" text-anchor="end" font-family="Liberation Sans, Arial, sans-serif" fill="#111">novel tx 6</text>
<rect x="626.30" y="252.50" width="1.30" height="12.7" fill="#A9A9A9"/>
<text x="578.9" y="261.6" font-size="8.1" text-anchor="end" font-family="Liberation Sans, Arial, sans-serif" fill="#111">novel tx 5</text>
<rect x="625.21" y="270.50" width="2.39" height="12.7" fill="#A9A9A9"/>
<text x="578.9" y="279.6" font-size="8.1" text-anchor="end" font-family="Liberation Sans, Arial, sans-serif" fill="#111">novel tx 4</text>
<rect x="627.60" y="288.50" width="19.53" height="12.7" fill="#EF5128"/>
<text x="578.9" y="297.6" font-size="8.1" text-anchor="end" font-family="Liberation Sans, Arial, sans-serif" fill="#111">novel tx 3</text>
<rect x="627.60" y="306.50" width="2.08" height="12.7" fill="#A9A9A9"/>
<text x="578.9" y="315.6" font-size="8.1" text-anchor="end" font-family="Liberation Sans, Arial, sans-serif" fill="#111">novel tx 2</text>
<rect x="608.29" y="324.50" width="19.31" height="12.7" fill="#48C45E"/>
<text x="578.9" y="333.6" font-size="8.1" text-anchor="end" font-family="Liberation Sans, Arial, sans-serif" fill="#111">novel tx 1</text>
<path d="M627.6 68.3 V340.5" stroke="#555" stroke-width="0.7" fill="none"/>
<rect x="608.69" y="78.55" width="1.8" height="1.8" rx="0.6" fill="#000"/>
<rect x="613.90" y="77.15" width="1.8" height="1.8" rx="0.6" fill="#000"/>
<rect x="605.87" y="94.05" width="1.8" height="1.8" rx="0.6" fill="#000"/>
<rect x="608.04" y="97.25" width="1.8" height="1.8" rx="0.6" fill="#000"/>
<rect x="589.81" y="113.95" width="1.8" height="1.8" rx="0.6" fill="#000"/>
<rect x="596.75" y="113.95" width="1.8" height="1.8" rx="0.6" fill="#000"/>
<rect x="634.21" y="130.05" width="1.8" height="1.8" rx="0.6" fill="#000"/>
<rect x="630.61" y="133.35" width="1.8" height="1.8" rx="0.6" fill="#000"/>
<rect x="642.32" y="150.05" width="1.8" height="1.8" rx="0.6" fill="#000"/>
<rect x="642.98" y="150.35" width="1.8" height="1.8" rx="0.6" fill="#000"/>
<rect x="628.78" y="167.15" width="1.8" height="1.8" rx="0.6" fill="#000"/>
<rect x="628.00" y="168.35" width="1.8" height="1.8" rx="0.6" fill="#000"/>
<rect x="630.30" y="185.95" width="1.8" height="1.8" rx="0.6" fill="#000"/>
<rect x="635.29" y="185.95" width="1.8" height="1.8" rx="0.6" fill="#000"/>
<rect x="625.09" y="203.55" width="1.8" height="1.8" rx="0.6" fill="#000"/>
<rect x="626.09" y="204.25" width="1.8" height="1.8" rx="0.6" fill="#000"/>
<rect x="643.63" y="219.75" width="1.8" height="1.8" rx="0.6" fill="#000"/>
<rect x="641.20" y="223.35" width="1.8" height="1.8" rx="0.6" fill="#000"/>
<rect x="588.07" y="240.45" width="1.8" height="1.8" rx="0.6" fill="#000"/>
<rect x="592.11" y="238.95" width="1.8" height="1.8" rx="0.6" fill="#000"/>
<rect x="624.92" y="257.45" width="1.8" height="1.8" rx="0.6" fill="#000"/>
<rect x="625.62" y="258.45" width="1.8" height="1.8" rx="0.6" fill="#000"/>
<rect x="624.10" y="275.45" width="1.8" height="1.8" rx="0.6" fill="#000"/>
<rect x="624.92" y="274.95" width="1.8" height="1.8" rx="0.6" fill="#000"/>
<rect x="641.98" y="292.45" width="1.8" height="1.8" rx="0.6" fill="#000"/>
<rect x="651.44" y="294.25" width="1.8" height="1.8" rx="0.6" fill="#000"/>
<rect x="628.00" y="312.45" width="1.8" height="1.8" rx="0.6" fill="#000"/>
<rect x="630.09" y="311.65" width="1.8" height="1.8" rx="0.6" fill="#000"/>
<rect x="606.39" y="331.15" width="1.8" height="1.8" rx="0.6" fill="#000"/>
<rect x="607.39" y="330.45" width="1.8" height="1.8" rx="0.6" fill="#000"/>
<path d="M580.7 68.3 V340.65 H674.6" stroke="#333" stroke-width="0.65" fill="none"/>
<text x="584.2" y="348.7" font-size="7.8" text-anchor="middle" font-family="Liberation Sans, Arial, sans-serif" fill="#222">−10</text>
<text x="605.9" y="348.7" font-size="7.8" text-anchor="middle" font-family="Liberation Sans, Arial, sans-serif" fill="#222">−5</text>
<text x="627.6" y="348.7" font-size="7.8" text-anchor="middle" font-family="Liberation Sans, Arial, sans-serif" fill="#222">0</text>
<text x="649.3" y="348.7" font-size="7.8" text-anchor="middle" font-family="Liberation Sans, Arial, sans-serif" fill="#222">5</text>
<text x="671.0" y="348.7" font-size="7.8" text-anchor="middle" font-family="Liberation Sans, Arial, sans-serif" fill="#222">10</text>
<text x="628.6" y="365.9" font-size="10.2" text-anchor="middle" font-family="Liberation Sans, Arial, sans-serif" fill="#111">log2FC</text>
</svg>
</body></html>
